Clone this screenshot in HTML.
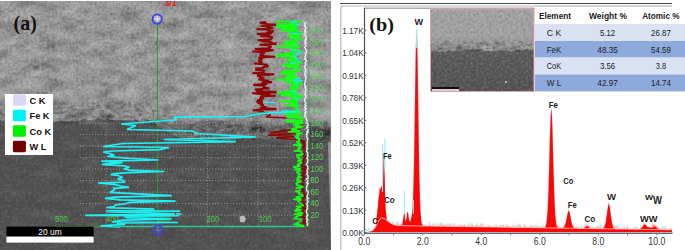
<!DOCTYPE html>
<html><head><meta charset="utf-8"><style>
html,body{margin:0;padding:0;background:#fff;}
body{width:685px;height:250px;overflow:hidden;position:relative;}
svg{position:absolute;left:0;top:0;font-family:"Liberation Sans",sans-serif;}
</style></head><body>
<svg width="685" height="250" viewBox="0 0 685 250">
<defs><filter id="nz" x="0" y="0" width="100%" height="100%" color-interpolation-filters="sRGB"><feTurbulence type="fractalNoise" baseFrequency="0.38" numOctaves="2" seed="4" result="t"/><feColorMatrix in="t" type="matrix" values="0 0 0 0 1  0 0 0 0 1  0 0 0 0 1  2.6 0 0 0 -1.3" result="w"/><feColorMatrix in="t" type="matrix" values="0 0 0 0 0  0 0 0 0 0  0 0 0 0 0  -2.6 0 0 0 1.3" result="b"/><feMerge><feMergeNode in="w"/><feMergeNode in="b"/></feMerge></filter><filter id="blot" x="0" y="0" width="100%" height="100%" color-interpolation-filters="sRGB"><feTurbulence type="fractalNoise" baseFrequency="0.05 0.1" numOctaves="3" seed="11" result="t"/><feColorMatrix in="t" type="matrix" values="0 0 0 0 1  0 0 0 0 1  0 0 0 0 1  2 0 0 0 -1" result="w"/><feColorMatrix in="t" type="matrix" values="0 0 0 0 0  0 0 0 0 0  0 0 0 0 0  -2 0 0 0 1" result="b"/><feMerge><feMergeNode in="w"/><feMergeNode in="b"/></feMerge></filter><filter id="blot2" x="0" y="0" width="100%" height="100%" color-interpolation-filters="sRGB"><feTurbulence type="fractalNoise" baseFrequency="0.16 0.26" numOctaves="3" seed="21" result="t"/><feColorMatrix in="t" type="matrix" values="0 0 0 0 1  0 0 0 0 1  0 0 0 0 1  2.5 0 0 0 -1.3" result="w"/><feColorMatrix in="t" type="matrix" values="0 0 0 0 0  0 0 0 0 0  0 0 0 0 0  -3 0 0 0 1.5" result="b"/><feMerge><feMergeNode in="w"/><feMergeNode in="b"/></feMerge></filter><linearGradient id="bandm" x1="0" y1="0" x2="0" y2="1"><stop offset="0" stop-color="#fff" stop-opacity="0"/><stop offset="0.35" stop-color="#fff" stop-opacity="1"/><stop offset="1" stop-color="#fff" stop-opacity="1"/></linearGradient><filter id="mb" x="-5%" y="-30%" width="110%" height="160%"><feGaussianBlur stdDeviation="3"/></filter><mask id="bm"><polygon points="0,120.9 4,121.8 8,121.6 12,122.4 16,122.6 20,121.5 24,121.5 28,123.5 32,122.2 36,122.2 40,124 44,122.7 48,123.4 52,122.4 56,122.7 60,121.3 64,122.3 68,122.6 72,121.6 76,121.9 80,121.5 84,119.8 88,121.3 92,120.7 96,119.9 100,119.2 104,121.1 108,120.1 112,120.7 116,121.2 120,120.9 124,121.5 128,120.4 132,121.5 136,120.9 140,122.3 144,122.4 148,120.7 152,122.1 156,124.7 160,128.9 164,129.9 168,132.7 172,134.2 176,136.9 180,138.8 184,140.9 188,141.9 192,141.8 196,142.5 200,141.8 204,142.2 208,141.8 212,141.9 216,141 220,139.5 224,141 228,141 232,140.7 236,139.7 240,139.9 244,138.6 248,140 252,139.4 256,138.7 260,138.2 264,140.2 268,140.6 272,138.6 276,140.5 280,139.8 284,139.4 288,139.9 292,141.3 296,141.8 300,140 304,141.6 308,140.4 312,142.1 316,141.3 320,142.7 324,143 328,141.8 328,123.8 324,125 320,124.7 316,123.3 312,124.1 308,122.4 304,123.6 300,122 296,123.8 292,123.3 288,121.9 284,121.4 280,121.8 276,122.5 272,120.6 268,122.6 264,122.2 260,120.2 256,120.7 252,121.4 248,122 244,120.6 240,121.9 236,121.7 232,122.7 228,123 224,123 220,121.5 216,123 212,123.9 208,123.8 204,124.2 200,123.8 196,124.5 192,123.8 188,123.9 184,122.9 180,120.8 176,118.9 172,116.2 168,114.7 164,111.9 160,110.9 156,106.7 152,104.1 148,102.7 144,104.4 140,104.3 136,102.9 132,103.5 128,102.4 124,103.5 120,102.9 116,103.2 112,102.7 108,102.1 104,103.1 100,101.2 96,101.9 92,102.7 88,103.3 84,101.8 80,103.5 76,103.9 72,103.6 68,104.6 64,104.3 60,103.3 56,104.7 52,104.4 48,105.4 44,104.7 40,106 36,104.2 32,104.2 28,105.5 24,103.5 20,103.5 16,104.6 12,104.4 8,103.6 4,103.8 0,102.9" fill="#fff" filter="url(#mb)"/></mask><clipPath id="ca"><rect x="0" y="1" width="331" height="249"/></clipPath></defs><g clip-path="url(#ca)"><rect x="0" y="1" width="331" height="249" fill="#989898"/><defs><linearGradient id="tg" x1="0" y1="0" x2="0" y2="1"><stop offset="0" stop-color="#000" stop-opacity="0"/><stop offset="1" stop-color="#000" stop-opacity="0.12"/></linearGradient><linearGradient id="tg2" x1="0" y1="0" x2="0" y2="1"><stop offset="0" stop-color="#7c7c7c" stop-opacity="1"/><stop offset="0.6" stop-color="#6a6a6a" stop-opacity="0.8"/><stop offset="1" stop-color="#5a5a5a" stop-opacity="0"/></linearGradient><filter id="bl1"><feGaussianBlur stdDeviation="1.2"/></filter></defs><polygon points="0,120.9 4,121.8 8,121.6 12,122.4 16,122.6 20,121.5 24,121.5 28,123.5 32,122.2 36,122.2 40,124 44,122.7 48,123.4 52,122.4 56,122.7 60,121.3 64,122.3 68,122.6 72,121.6 76,121.9 80,121.5 84,119.8 88,121.3 92,120.7 96,119.9 100,119.2 104,121.1 108,120.1 112,120.7 116,121.2 120,120.9 124,121.5 128,120.4 132,121.5 136,120.9 140,122.3 144,122.4 148,120.7 152,122.1 156,124.7 160,128.9 164,129.9 168,132.7 172,134.2 176,136.9 180,138.8 184,140.9 188,141.9 192,141.8 196,142.5 200,141.8 204,142.2 208,141.8 212,141.9 216,141 220,139.5 224,141 228,141 232,140.7 236,139.7 240,139.9 244,138.6 248,140 252,139.4 256,138.7 260,138.2 264,140.2 268,140.6 272,138.6 276,140.5 280,139.8 284,139.4 288,139.9 292,141.3 296,141.8 300,140 304,141.6 308,140.4 312,142.1 316,141.3 320,142.7 324,143 328,141.8 328,123.8 324,125 320,124.7 316,123.3 312,124.1 308,122.4 304,123.6 300,122 296,123.8 292,123.3 288,121.9 284,121.4 280,121.8 276,122.5 272,120.6 268,122.6 264,122.2 260,120.2 256,120.7 252,121.4 248,122 244,120.6 240,121.9 236,121.7 232,122.7 228,123 224,123 220,121.5 216,123 212,123.9 208,123.8 204,124.2 200,123.8 196,124.5 192,123.8 188,123.9 184,122.9 180,120.8 176,118.9 172,116.2 168,114.7 164,111.9 160,110.9 156,106.7 152,104.1 148,102.7 144,104.4 140,104.3 136,102.9 132,103.5 128,102.4 124,103.5 120,102.9 116,103.2 112,102.7 108,102.1 104,103.1 100,101.2 96,101.9 92,102.7 88,103.3 84,101.8 80,103.5 76,103.9 72,103.6 68,104.6 64,104.3 60,103.3 56,104.7 52,104.4 48,105.4 44,104.7 40,106 36,104.2 32,104.2 28,105.5 24,103.5 20,103.5 16,104.6 12,104.4 8,103.6 4,103.8 0,102.9" fill="#000" opacity="0.1" filter="url(#mb)"/><polygon points="0,119.9 4,120.8 8,120.6 12,121.4 16,121.6 20,120.5 24,120.5 28,122.5 32,121.2 36,121.2 40,123 44,121.7 48,122.4 52,121.4 56,121.7 60,120.3 64,121.3 68,121.6 72,120.6 76,120.9 80,120.5 84,118.8 88,120.3 92,119.7 96,118.9 100,118.2 104,120.1 108,119.1 112,119.7 116,120.2 120,119.9 124,120.5 128,119.4 132,120.5 136,119.9 140,121.3 144,121.4 148,119.7 152,121.1 156,123.7 160,127.9 164,128.9 168,131.7 172,133.2 176,135.9 180,137.8 184,139.9 188,140.9 192,140.8 196,141.5 200,140.8 204,141.2 208,140.8 212,140.9 216,140 220,138.5 224,140 228,140 232,139.7 236,138.7 240,138.9 244,137.6 248,139 252,138.4 256,137.7 260,137.2 264,139.2 268,139.6 272,137.6 276,139.5 280,138.8 284,138.4 288,138.9 292,140.3 296,140.8 300,139 304,140.6 308,139.4 312,141.1 316,140.3 320,141.7 324,142 328,140.8 331,250 0,250" fill="#515151"/><polygon points="150,121 152,121.1 156,121.5 160,121.5 164,121.5 168,121.5 172,121.5 176,121.5 180,121.5 184,121.5 188,121.5 192,121.5 196,121.5 200,121.5 204,121.5 208,121.5 212,121.5 216,121.5 220,121.5 224,121.5 228,121.5 232,121.5 236,121.5 240,121.5 244,121.5 248,121.5 252,121.5 256,121.5 260,121.5 264,121.5 268,121.5 272,121.5 276,121.5 280,121.5 284,121.5 288,121.5 292,121.5 296,121.5 300,121.5 304,121.5 308,121.5 312,121.5 316,121.5 320,121.5 324,121.5 328,121.5 328,140.8 324,142 320,141.7 316,140.3 312,141.1 308,139.4 304,140.6 300,139 296,140.8 292,140.3 288,138.9 284,138.4 280,138.8 276,139.5 272,137.6 268,139.6 264,139.2 260,137.2 256,137.7 252,138.4 248,139 244,137.6 240,138.9 236,138.7 232,139.7 228,140 224,140 220,138.5 216,140 212,140.9 208,140.8 204,141.2 200,140.8 196,141.5 192,140.8 188,140.9 184,139.9 180,137.8 176,135.9 172,133.2 168,131.7 164,128.9 160,127.9 156,123.7 152,121.1" fill="#3a3a3a" opacity="0.42" filter="url(#bl1)"/><rect x="309" y="127" width="22" height="15" fill="#474747" filter="url(#bl1)"/><ellipse cx="258" cy="129" rx="7" ry="2.6" fill="#1c1c1c" opacity="0.8" filter="url(#bl1)"/><ellipse cx="232" cy="126" rx="5" ry="1.6" fill="#1c1c1c" opacity="0.5" filter="url(#bl1)"/><ellipse cx="108" cy="116.5" rx="8" ry="1.6" fill="#1c1c1c" opacity="0.6" filter="url(#bl1)"/><ellipse cx="80" cy="114" rx="5" ry="1.3" fill="#1c1c1c" opacity="0.4" filter="url(#bl1)"/><ellipse cx="327" cy="133" rx="3" ry="3" fill="#1c1c1c" opacity="0.8" filter="url(#bl1)"/><ellipse cx="284" cy="130" rx="4" ry="2" fill="#1c1c1c" opacity="0.5" filter="url(#bl1)"/><ellipse cx="36" cy="68" rx="3" ry="2" fill="#1c1c1c" opacity="0.35" filter="url(#bl1)"/><ellipse cx="190" cy="92" rx="3" ry="2" fill="#1c1c1c" opacity="0.25" filter="url(#bl1)"/><ellipse cx="140" cy="110" rx="6" ry="1.5" fill="#1c1c1c" opacity="0.35" filter="url(#bl1)"/><ellipse cx="300" cy="140" rx="5" ry="2" fill="#1c1c1c" opacity="0.5" filter="url(#bl1)"/><rect x="0" y="1" width="331" height="124" filter="url(#blot)" opacity="0.3"/><rect x="0" y="125" width="331" height="125" filter="url(#blot)" opacity="0.09"/><g mask="url(#bm)"><rect x="0" y="90" width="331" height="56" filter="url(#blot2)" opacity="0.28"/></g><defs><clipPath id="upc"><polygon points="0,1 331,1 328,140.8 324,142 320,141.7 316,140.3 312,141.1 308,139.4 304,140.6 300,139 296,140.8 292,140.3 288,138.9 284,138.4 280,138.8 276,139.5 272,137.6 268,139.6 264,139.2 260,137.2 256,137.7 252,138.4 248,139 244,137.6 240,138.9 236,138.7 232,139.7 228,140 224,140 220,138.5 216,140 212,140.9 208,140.8 204,141.2 200,140.8 196,141.5 192,140.8 188,140.9 184,139.9 180,137.8 176,135.9 172,133.2 168,131.7 164,128.9 160,127.9 156,123.7 152,121.1 148,119.7 144,121.4 140,121.3 136,119.9 132,120.5 128,119.4 124,120.5 120,119.9 116,120.2 112,119.7 108,119.1 104,120.1 100,118.2 96,118.9 92,119.7 88,120.3 84,118.8 80,120.5 76,120.9 72,120.6 68,121.6 64,121.3 60,120.3 56,121.7 52,121.4 48,122.4 44,121.7 40,123 36,121.2 32,121.2 28,122.5 24,120.5 20,120.5 16,121.6 12,121.4 8,120.6 4,120.8 0,119.9"/></clipPath><clipPath id="loc"><polygon points="0,119.9 4,120.8 8,120.6 12,121.4 16,121.6 20,120.5 24,120.5 28,122.5 32,121.2 36,121.2 40,123 44,121.7 48,122.4 52,121.4 56,121.7 60,120.3 64,121.3 68,121.6 72,120.6 76,120.9 80,120.5 84,118.8 88,120.3 92,119.7 96,118.9 100,118.2 104,120.1 108,119.1 112,119.7 116,120.2 120,119.9 124,120.5 128,119.4 132,120.5 136,119.9 140,121.3 144,121.4 148,119.7 152,121.1 156,123.7 160,127.9 164,128.9 168,131.7 172,133.2 176,135.9 180,137.8 184,139.9 188,140.9 192,140.8 196,141.5 200,140.8 204,141.2 208,140.8 212,140.9 216,140 220,138.5 224,140 228,140 232,139.7 236,138.7 240,138.9 244,137.6 248,139 252,138.4 256,137.7 260,137.2 264,139.2 268,139.6 272,137.6 276,139.5 280,138.8 284,138.4 288,138.9 292,140.3 296,140.8 300,139 304,140.6 308,139.4 312,141.1 316,140.3 320,141.7 324,142 328,140.8 331,250 0,250"/></clipPath></defs><g clip-path="url(#upc)"><rect x="0" y="1" width="331" height="249" filter="url(#nz)" opacity="0.19"/></g><g clip-path="url(#loc)"><rect x="0" y="1" width="331" height="249" filter="url(#nz)" opacity="0.1"/></g></g><line x1="80" y1="215.1" x2="308" y2="215.1" stroke="#c8c8c8" stroke-width="0.9" stroke-dasharray="1.2 1.8" opacity="0.55"/><line x1="80" y1="203.6" x2="308" y2="203.6" stroke="#c8c8c8" stroke-width="0.9" stroke-dasharray="1.2 1.8" opacity="0.55"/><line x1="80" y1="192.1" x2="308" y2="192.1" stroke="#c8c8c8" stroke-width="0.9" stroke-dasharray="1.2 1.8" opacity="0.55"/><line x1="80" y1="180.6" x2="308" y2="180.6" stroke="#c8c8c8" stroke-width="0.9" stroke-dasharray="1.2 1.8" opacity="0.55"/><line x1="80" y1="169.1" x2="308" y2="169.1" stroke="#c8c8c8" stroke-width="0.9" stroke-dasharray="1.2 1.8" opacity="0.55"/><line x1="80" y1="157.6" x2="308" y2="157.6" stroke="#c8c8c8" stroke-width="0.9" stroke-dasharray="1.2 1.8" opacity="0.55"/><line x1="80" y1="146.1" x2="308" y2="146.1" stroke="#c8c8c8" stroke-width="0.9" stroke-dasharray="1.2 1.8" opacity="0.55"/><line x1="80" y1="134.6" x2="308" y2="134.6" stroke="#c8c8c8" stroke-width="0.9" stroke-dasharray="1.2 1.8" opacity="0.55"/><line x1="80" y1="123.1" x2="308" y2="123.1" stroke="#c8c8c8" stroke-width="0.9" stroke-dasharray="1.2 1.8" opacity="0.55"/><line x1="106.2" y1="120" x2="106.2" y2="226" stroke="#c8c8c8" stroke-width="0.9" stroke-dasharray="1.2 1.8" opacity="0.45"/><line x1="207.6" y1="120" x2="207.6" y2="226" stroke="#c8c8c8" stroke-width="0.9" stroke-dasharray="1.2 1.8" opacity="0.45"/><line x1="258.3" y1="120" x2="258.3" y2="226" stroke="#c8c8c8" stroke-width="0.9" stroke-dasharray="1.2 1.8" opacity="0.45"/><line x1="55" y1="226.6" x2="309" y2="226.6" stroke="#2fa52f" stroke-width="1"/><line x1="55.5" y1="225.1" x2="55.5" y2="227.6" stroke="#2fa52f" stroke-width="0.8"/><line x1="80.8" y1="225.1" x2="80.8" y2="227.6" stroke="#2fa52f" stroke-width="0.8"/><line x1="106.2" y1="225.1" x2="106.2" y2="227.6" stroke="#2fa52f" stroke-width="0.8"/><line x1="131.5" y1="225.1" x2="131.5" y2="227.6" stroke="#2fa52f" stroke-width="0.8"/><line x1="156.9" y1="225.1" x2="156.9" y2="227.6" stroke="#2fa52f" stroke-width="0.8"/><line x1="182.2" y1="225.1" x2="182.2" y2="227.6" stroke="#2fa52f" stroke-width="0.8"/><line x1="207.6" y1="225.1" x2="207.6" y2="227.6" stroke="#2fa52f" stroke-width="0.8"/><line x1="232.9" y1="225.1" x2="232.9" y2="227.6" stroke="#2fa52f" stroke-width="0.8"/><line x1="258.3" y1="225.1" x2="258.3" y2="227.6" stroke="#2fa52f" stroke-width="0.8"/><line x1="283.6" y1="225.1" x2="283.6" y2="227.6" stroke="#2fa52f" stroke-width="0.8"/><line x1="157.4" y1="24" x2="157.4" y2="226" stroke="#2e9a2e" stroke-width="1"/><line x1="308.8" y1="20" x2="308.8" y2="227" stroke="#2fa52f" stroke-width="0.7" opacity="0.7"/><text x="55" y="221.6" font-size="9" fill="#48c848" textLength="12.8" lengthAdjust="spacingAndGlyphs">500</text><text x="106" y="221.6" font-size="9" fill="#48c848" textLength="12.8" lengthAdjust="spacingAndGlyphs">400</text><text x="157.3" y="221.6" font-size="9" fill="#48c848" textLength="12.8" lengthAdjust="spacingAndGlyphs">300</text><text x="206.6" y="221.6" font-size="9" fill="#48c848" textLength="12.8" lengthAdjust="spacingAndGlyphs">200</text><text x="258.7" y="221.6" font-size="9" fill="#48c848" textLength="12.8" lengthAdjust="spacingAndGlyphs">100</text><text x="310.6" y="217.9" font-size="8.2" fill="#5ed05e" textLength="8.5" lengthAdjust="spacingAndGlyphs">20</text><text x="310.6" y="206.4" font-size="8.2" fill="#5ed05e" textLength="8.5" lengthAdjust="spacingAndGlyphs">40</text><text x="310.6" y="194.8" font-size="8.2" fill="#5ed05e" textLength="8.5" lengthAdjust="spacingAndGlyphs">60</text><text x="310.6" y="183.3" font-size="8.2" fill="#5ed05e" textLength="8.5" lengthAdjust="spacingAndGlyphs">80</text><text x="310.6" y="171.8" font-size="8.2" fill="#5ed05e" textLength="12.5" lengthAdjust="spacingAndGlyphs">100</text><text x="310.6" y="160.2" font-size="8.2" fill="#5ed05e" textLength="12.5" lengthAdjust="spacingAndGlyphs">120</text><text x="310.6" y="148.7" font-size="8.2" fill="#5ed05e" textLength="12.5" lengthAdjust="spacingAndGlyphs">140</text><text x="310.6" y="137.1" font-size="8.2" fill="#5ed05e" textLength="12.5" lengthAdjust="spacingAndGlyphs">160</text><text x="310.6" y="125.5" font-size="8.2" fill="#5ed05e" textLength="12.5" lengthAdjust="spacingAndGlyphs">180</text><text x="310.6" y="114" font-size="8.2" fill="#5ed05e" textLength="12.5" lengthAdjust="spacingAndGlyphs">200</text><text x="310.6" y="102.4" font-size="8.2" fill="#5ed05e" textLength="12.5" lengthAdjust="spacingAndGlyphs">220</text><text x="310.6" y="90.9" font-size="8.2" fill="#5ed05e" textLength="12.5" lengthAdjust="spacingAndGlyphs">240</text><text x="310.6" y="79.3" font-size="8.2" fill="#5ed05e" textLength="12.5" lengthAdjust="spacingAndGlyphs">260</text><text x="310.6" y="67.8" font-size="8.2" fill="#5ed05e" textLength="12.5" lengthAdjust="spacingAndGlyphs">280</text><text x="310.6" y="56.2" font-size="8.2" fill="#5ed05e" textLength="12.5" lengthAdjust="spacingAndGlyphs">300</text><text x="310.6" y="44.7" font-size="8.2" fill="#5ed05e" textLength="12.5" lengthAdjust="spacingAndGlyphs">320</text><text x="310.6" y="33.1" font-size="8.2" fill="#5ed05e" textLength="12.5" lengthAdjust="spacingAndGlyphs">340</text><polyline points="265.9,22 259.7,22.6 265.5,23.1 266.6,23.7 267.7,24.2 276.7,24.7 268.7,25.3 260.7,25.8 267.9,26.2 266.2,26.8 269.9,27.4 273,28 271.7,28.5 256.4,29.2 270.1,29.7 268,30.4 270,31 273.8,31.4 270.2,32.2 266.3,32.7 271.9,33.2 256.7,33.9 270.1,34.3 262.6,35 270.3,35.6 260,36.3 270.5,36.8 272.8,37.5 271.7,38.3 270.8,39 270.5,39.4 257.6,40.2 270.5,40.6 260.6,41.2 271,42 272.1,42.6 270.5,43.1 276.6,43.6 270.7,44.1 259.5,44.8 270.5,45.2 267.7,45.9 270.6,46.6 271.4,47 269,47.5 270.5,48 267.5,48.4 254.8,49 267.1,49.6 273.7,50.3 267.3,51 252.3,51.5 265.2,52.2 262.4,52.9 264.2,53.4 260.3,53.8 263.7,54.6 259.6,55.4 262.7,56.1 275,56.7 262.2,57.3 258.4,58 262.8,58.8 259.4,59.5 261.2,60.1 258,60.8 262.3,61.4 258.7,62.1 262.4,62.8 253.8,63.5 263.3,64.3 267.6,64.8 264,65.5 268.6,66.3 264.3,66.9 262.6,67.4 263.5,68.1 255.3,68.6 261.8,69 255.2,69.7 262.5,70.4 263.9,70.8 263.3,71.5 263.4,72.1 263.6,72.5 252.5,73 262.9,73.7 274.3,74.3 262.6,75.1 257,75.6 261.4,76.2 259,76.8 261.8,77.4 263.3,78.1 262.4,78.9 258.3,79.3 262.8,80.1 269,80.8 262.5,81.5 272,82.1 264.6,82.8 261.2,83.6 267,84.1 253.2,84.9 264.2,85.5 265.1,85.9 262.9,86.6 265.5,87.1 262.7,87.6 269.4,88.3 261.2,89 254.9,89.5 262.7,90.2 255.8,90.8 262.8,91.6 276.5,92.1 262.1,92.7 252.3,93.3 262,94.1 270.4,94.6 262.1,95.2 275.9,95.8 261.9,96.3 260.2,96.7 261.4,97.5 263.9,98.2 261.2,98.9 259,99.3 261.2,99.9 257.1,100.6 262.7,101.1 256.3,101.7 262,102.2 257.6,102.9 262.7,103.6 259.8,104.4 263,105.1 263.3,105.9 262,106.6 266.4,107.1 263.9,107.6 259.8,108 261.7,108.4 276.5,109.1 262,109.5 252.7,110.2 261.1,110.7 257.7,111.3 263,111.7 263.7,112.5 264,113 267.6,113.5" fill="none" stroke="#8e0606" stroke-width="2.1" stroke-linejoin="miter" stroke-miterlimit="2" opacity="1"/><polyline points="270,113 270,115 266,117 298,118.5 300,120 301.8,121 303,122.1 299.1,122.8 300.6,123.6 303.1,124.8 302.3,125.8 299.9,126.9 300,127.8 299.4,129 270,132.5 299,133.5 268,135 296,136.5 276,138 300,140 302.8,141 304.9,142 302.4,143 302.2,143.7 305.2,144.4 304.2,145 303,145.7 305.7,146.5 301.6,147.4 302.2,148.2 305.5,149.2 305.6,150.3 306.2,151.3 302.8,152.3 303.9,153.4 304.3,154.4 303.3,155.2 303.1,156.1 305.6,156.7 306.4,157.7 304.3,158.7 302.2,159.7 303.7,160.7 302.5,161.3 302.8,162.2 304.5,163 302.2,163.8 302.7,164.7 302.5,165.3 301.9,166.1 306.3,167.1 305.1,167.9 301.7,169 305.5,169.6 304.7,170.7 303.6,171.3 305.9,172.4 302.5,173.5 303.4,174.5 302.2,175.5 304.5,176.7 302.6,177.7 304.4,178.6 303.3,179.5 303.2,180.5 302.3,181.2 302.1,182.2 301.8,182.9 304.3,183.8 301.7,184.7 303.2,185.5 301.5,186.1 302.1,187.3 302.8,188 301.9,188.9 303.3,189.8 301.5,190.8 304,191.6 304.1,192.7 304.8,193.6 301.7,194.3 306.1,195.2 302.8,196.2 305.7,197.1 304.4,197.8 302.7,198.6 302.5,199.3 301.7,200.1 301.9,200.9 304.5,201.9 305.4,202.4 303.9,203.1 303.2,204 303.7,204.7 305.8,205.3 305.6,206 303,206.6 301.7,207.4 303.3,208 305.9,208.9 301.7,210 302.1,210.9 303.1,211.9 304.2,213 301.5,213.7 305.8,214.4 303.9,215 303.2,215.8 302.6,216.8 304.8,217.8 304.1,218.9 303.7,220.1 304.6,221 306,222 302.2,222.6 305.6,223.5 303,224.4 303,225.5" fill="none" stroke="#8e0606" stroke-width="1.6" stroke-linejoin="miter" stroke-miterlimit="2" opacity="1"/><path d="M276 21.5H302" stroke="#14ff14" stroke-width="1.6" opacity="1" fill="none"/><polyline points="296.7,22.5 292.2,23.1 298,23.8 276.1,24.4 298.2,25 276.9,25.5 297.9,26.3 276.7,27 297.7,27.5 293,28.1 297.7,28.5 283.1,29.1 297.7,29.7 280.4,30.2 298,31 288.3,31.7 298.9,32.4 302.5,32.9 298.7,33.4 298.9,34 299.4,34.6 287.3,35.4 299.5,36 288.8,36.5 298.7,37.1 289.7,37.9 298.2,38.4 302.1,38.8 299.1,39.4 298,40.2 296.8,41 283.7,41.7 296.3,42.2 286.2,42.9 295.7,43.7 284.7,44.2 298.4,44.6 286.4,45.4 299,45.9 276.6,46.5 299.8,47 289.4,47.7 296.8,48.4 292.3,49 295.1,49.4 293,50.1 292.8,50.7 302.1,51.3 292.8,51.7 291.4,52.3 293.3,53 284.9,53.6 294.2,54.1 276.8,54.7 295.8,55.4 276.1,56.1 296.3,56.7 290.6,57.4 296.8,57.9 295.6,58.5 297.1,59 286.3,59.4 297.1,60.1 286.6,60.7 299.2,61.3 298.1,61.8 298.2,62.3 302,62.7 299.1,63.3 284.9,63.9 298.1,64.4 281.6,64.8 298.9,65.5 287.2,66 298.2,66.7 286.4,67.1 299.1,67.8 295.6,68.5 297.9,69.2 299.6,69.7 299.9,70.3 283.1,70.7 295.5,71.3 282.1,71.9 295.3,72.7 280.1,73.5 295.1,74 293.9,74.7 294,75.2 287.2,75.9 296.8,76.4 285.2,77.1 296.7,77.8 296.1,78.3 298.2,78.7 276.4,79.5 299.4,80.1 288.5,80.6 298.6,81 300.5,81.6 299.1,82.1 285.3,82.5 296.3,83.1 302.5,83.8 297.6,84.6 293,85.3 297.7,85.8 290,86.5 298.5,87.1 290.4,87.7 297,88.4 290.8,88.9 296.9,89.3 290.3,89.9 297.5,90.4 285.1,91.2 297.2,91.8 276.9,92.6 296.7,93.1 290.6,93.8 298.4,94.4 280.7,95.1 299.8,95.8 302.9,96.4 299.6,97 290.1,97.4 298.5,98 296.5,98.7 299.6,99.3 292.7,99.9 297.8,100.7 279.9,101.1 297.8,101.7 289.1,102.2 297.8,102.6 295.9,103.1 297.8,103.7 290.5,104.2 298.2,104.9 285.3,105.5 296.8,106.1 293.1,106.7 297.4,107.3 296.7,108 297.1,108.5 296.7,109.2 296.3,109.7 299.8,110.3 295.3,110.8 288.1,111.4 297.3,112 283.8,112.7 298.2,113.2 302.4,113.7" fill="none" stroke="#14ff14" stroke-width="2.0" stroke-linejoin="miter" stroke-miterlimit="2" opacity="1"/><path d="M286.0 115.0H297.2M285.7 116.7H301.6M287.2 117.9H303.7M297.0 119.0H301.8M284.7 120.7H303.2M286.7 122.0H302.9M294.8 123.4H303.7M292.6 124.7H298.8M294.9 126.4H303.7M295.6 127.8H301.7M291.4 128.9H297.2M291.2 130.5H299.9M288.3 131.9H299.6" stroke="#14ff14" stroke-width="1.6" opacity="1" fill="none"/><polyline points="302.4,133 296.1,134.1 299.5,134.9 298.8,135.6 294.5,136.4 299.3,137.2 295.9,138 300.4,138.9 298.2,140 299.8,140.8 296.1,141.5 299.9,142.5 296.9,143.5 301.6,144.2 293,144.8 301.7,145.7 297.7,146.5 299.6,147.5 301.4,148.1 297.3,149.2 299.9,150.3 293.5,151 301.6,151.5 301.5,152.7 302.9,153.6 302.8,154.3 296.1,155 302.5,155.6 296.3,156.3 299.6,157 298.7,157.7 298.1,158.5 302.2,159.5 300.7,160.3 297.3,161.3 301.3,162.1 301.7,163 298,163.9 297.4,165 299.7,165.6 299.7,166.2 293.3,167.1 296.6,168.1 300.6,168.8 294.4,169.6 300.7,170.4 299.4,171.3 296.1,172.4 299.2,173.5 300,174.5 298.1,175.2 298.1,176.4 301.6,177.2 297.4,178.1 297.1,178.7 299.3,179.7 296.4,180.6 301.9,181.4 297.4,182.5 295.8,183.4 298.2,184.1 296.2,185.2 300.6,186 302.4,186.6 302.8,187.2 295.6,187.9 301,188.5 299.8,189.5 300,190.5 295,191.3 298.7,192 299.5,192.9 298.2,193.7 302.4,194.7 302.9,195.8 298.4,196.4 295.8,197.5 301.2,198.5 293.1,199.2 301.7,200 297.3,200.8 298.8,201.7 299.8,202.8 300.2,203.7 302.4,204.6 301.4,205 304,205.6 295.8,206.4 301.4,207 299,207.9 296,208.9 301.7,210 294.3,210.6 296.4,211.6 299.9,212.2 303.3,213.2 294,214.2 302.4,215.1 297.4,216.1 295.8,217.1 296.3,217.6 293.5,218.5 301.9,219.5 300.7,220.1 300.8,221 298.6,221.9 297.3,222.9 298.9,223.7 293.4,224.3 299,224.9 303.9,225.4 296,226.4 304,226.4" fill="none" stroke="#14ff14" stroke-width="1.5" stroke-linejoin="miter" stroke-miterlimit="2" opacity="1"/><path d="M291.1 22.0H297.2M295.2 24.7H299.9M290.3 33.6H301.1M296.1 37.7H296.2M295.0 44.8H296.9M291.9 50.3H300.3M297.0 52.7H301.9M295.0 54.6H298.9M292.6 57.0H296.2M295.6 58.8H299.0M296.9 61.3H300.6M289.6 63.2H296.3M294.9 68.5H296.9M292.9 78.6H301.1M293.1 81.0H302.8M295.2 82.9H297.9M297.3 85.7H298.7M290.5 90.9H296.2M294.1 94.3H297.1M295.1 96.3H296.8M295.4 99.1H299.9M297.5 105.6H300.5" stroke="#22e4f0" stroke-width="1.3" opacity="1" fill="none"/><polyline points="304.5,22 305.3,22.8 304.8,24.1 305,24.9 304.8,26.3 305.8,27.6 305.6,28.5 305.3,29.6 304.7,31.1 306.4,31.8 304.9,32.9 305.2,33.9 304.9,35.4 305.7,36.3 306.4,37.5 305.2,38.9 306.2,39.8 304.6,41.4 306.2,42.7 304.9,44 306,45.4 305.8,46.2 304.6,47.2 305.2,48.2 305.8,49.2 306.4,50.6 306.5,52.2 305.1,53.6 305.7,54.4 305.8,55.6 304.9,56.4 305.7,57.9 304.7,59.2 306.3,60.3 306.5,61.5 305.4,62.4 305.4,63.8 305.6,65.2 304.7,66 304.7,67.5 305.2,68.4 306.2,69.7 305.5,70.9 305.1,72.2 305.7,73.3 304.6,74.5 304.8,75.3 305.9,76.7 306,78.2 306,79.2 305.2,80.7 305.3,81.4 304.9,82.4 304.7,83.1 304.6,84.6 304.9,85.8 306.1,86.7 304.9,87.7 305.9,88.8 306.2,89.9 305.5,91 305.4,92.3 305.4,93.6 304.7,94.5 306,95.9 305.9,97.4 304.8,98.6 304.7,100 304.8,101.1 305.1,102.1 305.9,103.2 305,104.4 306,105.8 304.6,107.2 306.3,108.4 304.9,109.3 305.2,110.7 306.1,111.8 304.9,112.8 305.2,113.7 305.2,115 304.6,116.4 305.7,117.3 306.5,119 306.9,119.9 307.3,121.4 306.5,122.7 308,123.8 308.2,125 307,126.5 307.8,127.2 306.3,128 308,129.3 308.2,130.8 306.5,131.7 308.3,132.5 306.6,133.3 306.4,134 307,134.8 306.9,135.6 306.6,137.1 307.8,138.5 307.5,139.7 307.5,141.1 307,142 307.1,142.9 307.2,144.5 307.3,145.3 307.2,146.7 306.5,148 307.6,148.8 306.9,149.5 306.7,150.6 306.3,151.3 307.7,152.8 307.3,154.4 308,155.9 307.4,157.1 306.8,158.3 307.7,159.3 308,160.2 307.5,161.3 307.6,162.7 306.8,163.6 306.4,164.3 307.5,165.8 307.9,167.4 308.2,168.3 307.2,169.8 306.9,170.6 307,171.5 307.7,172.3 306.7,173.8 307.5,175.2 308.1,176.3 307.9,177.4 308.2,178.1 306.3,179 307.7,180.4 307.8,181.7 306.5,182.8 308.2,183.7 306.8,185.3 307.2,186.4 306.3,187.9 306.8,189.3 306.6,190.5 308.1,191.2 308.2,192.4 307.8,193.8 307.5,194.6 307.3,196.2 306.7,196.9 308.3,198.5 306.9,199.4 307.3,200.7 308.3,201.6 307,202.9 307.3,203.6 306.7,205 307.7,205.7 307.1,207.2 307.6,208.4 306.6,209.5 306.7,210.5 306.5,211.4 306.7,212.4 306.9,213.8 307.9,215.4 306.6,216.3 307.2,217.5 306.5,218.7 307.8,219.8 306.8,220.9 306.9,222.4 307.7,224 307.2,224.7 307.9,225.6" fill="none" stroke="#ece8ff" stroke-width="1.4" stroke-linejoin="miter" stroke-miterlimit="2" opacity="1"/><path d="M264 102.4H275M282 111H290M230 137H255" stroke="#1ef0f5" stroke-width="1.4" opacity="1" fill="none"/><polyline points="300,111.5 262,113.3 245,116.5 174,117.2 176.5,120 147,122 121,124 136,125.5 127,129.5 192.6,131 196.6,133.5 255.8,137 163.7,139.5 236,141.7 122.9,143.5 103,146.5 169,147.5 159.7,149.6 112.6,151 103.1,152 108.9,153.3 114.2,155.1 107.6,156.5 129.4,158.3 158.5,160 101.2,161.2 122.5,162.7 101.8,164.4 124.3,165.9 129.5,167.2 123.7,168.8 129.5,170.2 164.3,171.5 128.6,172.7 114.2,173.6 110.8,174.6 117.8,175.5 122.5,177.3 117.5,179.1 123.5,180.4 124.4,182.2 98.1,183 114.6,184.4 120.5,186 129.2,187.4 113.7,188.3 114.3,189.7 111.8,191.4 109.8,192.3 138.2,193.9 171.8,195.6 114.5,197.1 104.9,198.4 120.5,199.9 175.6,201.2 129.5,202.3 125,203.9 115,205 114.3,206.5 106.4,207.7 154.3,209.1 109.4,210.8 106,211 180,211.2 106.5,211.6 127.6,212.5 181.5,214 113.7,214.9 85,215.4 179,215.6 123.9,216.5 127.4,217.6 172,219 122.5,220.2 117.5,221.1 112,222 178,222.5 116.5,222.8 125.1,224.4 100.4,225.8 120,227" fill="none" stroke="#1ef0f5" stroke-width="1.7" stroke-linejoin="miter" stroke-miterlimit="2" opacity="1"/><line x1="112" y1="226.5" x2="299" y2="226.5" stroke="#2cc8a4" stroke-width="1.3" opacity="0.9"/><path d="M239.5 216.5 L244 215.5 L246 219 L244.5 222.5 L240 222 Z" fill="#c4c4c4" opacity="0.9"/><circle cx="157.2" cy="19" r="4.6" fill="#ffffff" fill-opacity="0.25" stroke="#3a44e4" stroke-width="1.8"/><path d="M154.2 19H160.2M157.2 16V22" stroke="#e8e8ff" stroke-width="1.1"/><circle cx="158" cy="230.2" r="4.6" fill="#ffffff" fill-opacity="0" stroke="#3a44e4" stroke-width="1.8"/><path d="M155 230.2H161M158 227.2V233.2" stroke="#6a70d0" stroke-width="1.1"/><text x="164.4" y="6.3" font-size="9" fill="#e8161c" font-weight="bold" clip-path="url(#ca)" textLength="12.2" lengthAdjust="spacingAndGlyphs">3/1</text><path d="M175.5 212 l1 3 l-2 0z" fill="#e02020"/><rect x="5" y="94" width="48" height="61" fill="#ffffff"/><rect x="12.9" y="94.2" width="13" height="11.5" rx="1.5" fill="#d8d8f2"/><text x="29.6" y="103.7" font-size="9.2" font-weight="bold" fill="#111">C K</text><rect x="12.9" y="109.7" width="13" height="11.5" rx="1.5" fill="#00f2f2"/><text x="29.6" y="119.2" font-size="9.2" font-weight="bold" fill="#111">Fe K</text><rect x="12.9" y="125.2" width="13" height="11.5" rx="1.5" fill="#00ee00"/><text x="29.6" y="134.7" font-size="9.2" font-weight="bold" fill="#111">Co K</text><rect x="12.9" y="140.7" width="13" height="11.5" rx="1.5" fill="#6e0000"/><text x="29.6" y="150.2" font-size="9.2" font-weight="bold" fill="#111">W L</text><text x="13.6" y="30" font-family="Liberation Serif" font-size="20" font-weight="bold" fill="#111">(a)</text><rect x="6.4" y="226.6" width="87.2" height="10" fill="#000"/><rect x="6.4" y="236.6" width="87.2" height="6" fill="#fff"/><text x="50" y="234.5" font-size="8.4" fill="#fff" text-anchor="middle">20 um</text>
<line x1="340" y1="3.5" x2="672" y2="3.5" stroke="#4a4a4a" stroke-width="1"/><line x1="342" y1="6" x2="672" y2="6" stroke="#cfcfcf" stroke-width="1.5"/><path d="M340.8 250 V8.5 Q340.8 6 343 6" fill="none" stroke="#c4c4c4" stroke-width="1.4"/><rect x="364" y="6.8" width="308" height="1.6" fill="#d4d4d4"/><line x1="364" y1="8.5" x2="672" y2="8.5" stroke="#9a9a9a" stroke-width="0.8"/><line x1="364.5" y1="8" x2="364.5" y2="233.5" stroke="#505050" stroke-width="1.2"/><path d="M364.6 232.0 L364.6 232.0 L365.1 232.0 L365.6 232.0 L366.1 232.0 L366.6 232.0 L367.1 231.9 L367.6 231.9 L368.1 231.9 L368.6 231.8 L369.1 231.8 L369.6 231.7 L370.1 231.5 L370.6 231.4 L371.1 231.2 L371.6 231.0 L372.1 230.7 L372.6 230.3 L373.1 229.9 L373.6 229.4 L374.1 228.8 L374.6 228.2 L375.1 227.5 L375.6 226.7 L376.1 225.8 L376.6 218.1 L377.1 213.2 L377.6 208.6 L378.1 204.2 L378.6 197.3 L379.1 196.2 L379.6 189.1 L380.1 187.5 L380.6 190.4 L381.1 186.4 L381.6 185.9 L382.1 187.2 L382.6 187.5 L383.1 181.5 L383.6 158.8 L384.1 157.0 L384.6 175.4 L385.1 194.2 L385.6 208.7 L386.1 212.6 L386.6 217.8 L387.1 221.7 L387.6 221.0 L388.1 221.3 L388.6 221.7 L389.1 222.1 L389.6 222.5 L390.1 222.8 L390.6 223.1 L391.1 223.4 L391.6 223.7 L392.1 220.3 L392.6 223.0 L393.1 221.9 L393.6 223.7 L394.1 224.1 L394.6 224.6 L395.1 225.0 L395.6 225.0 L396.1 221.2 L396.6 224.1 L397.1 224.5 L397.6 222.1 L398.1 223.9 L398.6 221.5 L399.1 225.0 L399.6 225.4 L400.1 222.1 L400.6 225.5 L401.1 223.0 L401.6 224.1 L402.1 221.2 L402.6 220.2 L403.1 218.8 L403.6 215.9 L404.1 212.8 L404.6 213.2 L405.1 215.4 L405.6 221.0 L406.1 219.6 L406.6 217.0 L407.1 212.8 L407.6 211.5 L408.1 212.6 L408.6 215.5 L409.1 219.9 L409.6 219.2 L410.1 221.7 L410.6 220.2 L411.1 218.2 L411.6 215.4 L412.1 210.2 L412.6 206.3 L413.1 194.5 L413.6 176.2 L414.1 155.5 L414.6 121.6 L415.1 89.3 L415.6 57.0 L416.1 35.4 L416.6 28.2 L417.1 37.0 L417.6 59.4 L418.1 91.1 L418.6 125.6 L419.1 157.3 L419.6 182.7 L420.1 199.8 L420.6 210.3 L421.1 216.9 L421.6 220.1 L422.1 224.7 L422.6 222.7 L423.1 225.7 L423.6 225.9 L424.1 225.6 L424.6 224.6 L425.1 226.0 L425.6 225.8 L426.1 225.4 L426.6 223.2 L427.1 225.4 L427.6 225.3 L428.1 225.5 L428.6 226.0 L429.1 222.9 L429.6 222.6 L430.1 223.9 L430.6 225.4 L431.1 225.3 L431.6 225.7 L432.1 224.4 L432.6 224.4 L433.1 225.7 L433.6 223.0 L434.1 224.0 L434.6 226.0 L435.1 223.5 L435.6 224.3 L436.1 225.9 L436.6 225.8 L437.1 223.9 L437.6 226.2 L438.1 225.4 L438.6 222.4 L439.1 226.0 L439.6 225.2 L440.1 222.8 L440.6 223.1 L441.1 223.7 L441.6 225.1 L442.1 222.7 L442.6 226.0 L443.1 223.1 L443.6 225.6 L444.1 224.5 L444.6 224.8 L445.1 226.0 L445.6 224.4 L446.1 224.8 L446.6 222.3 L447.1 224.5 L447.6 225.6 L448.1 225.8 L448.6 223.1 L449.1 225.9 L449.6 224.6 L450.1 224.4 L450.6 222.6 L451.1 226.3 L451.6 224.6 L452.1 226.3 L452.6 224.7 L453.1 224.7 L453.6 224.2 L454.1 223.4 L454.6 226.3 L455.1 223.4 L455.6 226.0 L456.1 225.8 L456.6 226.5 L457.1 225.3 L457.6 226.5 L458.1 226.1 L458.6 224.7 L459.1 224.2 L459.6 226.4 L460.1 224.0 L460.6 225.7 L461.1 226.4 L461.6 224.3 L462.1 224.3 L462.6 225.7 L463.1 225.4 L463.6 225.0 L464.1 225.0 L464.6 224.2 L465.1 224.2 L465.6 226.5 L466.1 226.6 L466.6 226.6 L467.1 226.3 L467.6 225.3 L468.1 222.9 L468.6 226.0 L469.1 226.1 L469.6 225.4 L470.1 223.0 L470.6 225.3 L471.1 226.4 L471.6 224.4 L472.1 222.7 L472.6 224.1 L473.1 226.1 L473.6 226.6 L474.1 225.9 L474.6 226.7 L475.1 226.7 L475.6 226.0 L476.1 223.8 L476.6 224.8 L477.1 226.1 L477.6 223.1 L478.1 226.7 L478.6 226.6 L479.1 226.5 L479.6 225.5 L480.1 223.6 L480.6 226.3 L481.1 224.0 L481.6 223.2 L482.1 225.9 L482.6 223.6 L483.1 223.6 L483.6 226.0 L484.1 226.8 L484.6 226.9 L485.1 226.7 L485.6 226.1 L486.1 227.0 L486.6 226.5 L487.1 226.0 L487.6 226.5 L488.1 224.8 L488.6 225.7 L489.1 225.8 L489.6 225.3 L490.1 225.6 L490.6 226.3 L491.1 226.9 L491.6 225.6 L492.1 227.0 L492.6 227.1 L493.1 226.6 L493.6 226.9 L494.1 224.7 L494.6 227.0 L495.1 226.3 L495.6 225.1 L496.1 226.4 L496.6 224.4 L497.1 227.1 L497.6 227.0 L498.1 226.8 L498.6 226.6 L499.1 225.9 L499.6 227.0 L500.1 225.9 L500.6 225.1 L501.1 225.4 L501.6 224.4 L502.1 227.2 L502.6 225.3 L503.1 225.0 L503.6 224.4 L504.1 227.1 L504.6 227.2 L505.1 224.9 L505.6 225.5 L506.1 227.2 L506.6 224.1 L507.1 225.1 L507.6 225.7 L508.1 224.9 L508.6 225.8 L509.1 226.8 L509.6 227.3 L510.1 226.8 L510.6 225.7 L511.1 227.2 L511.6 227.2 L512.1 227.3 L512.6 226.3 L513.1 223.5 L513.6 225.2 L514.1 227.4 L514.6 226.8 L515.1 225.5 L515.6 227.4 L516.1 224.8 L516.6 227.2 L517.1 226.6 L517.6 224.8 L518.1 224.3 L518.6 227.4 L519.1 224.7 L519.6 224.3 L520.1 224.6 L520.6 225.0 L521.1 226.9 L521.6 227.1 L522.1 227.5 L522.6 226.9 L523.1 227.2 L523.6 227.4 L524.1 223.8 L524.6 224.3 L525.1 224.8 L525.6 227.2 L526.1 227.5 L526.6 226.8 L527.1 227.6 L527.6 227.1 L528.1 226.1 L528.6 227.2 L529.1 227.2 L529.6 227.2 L530.1 224.8 L530.6 227.6 L531.1 224.9 L531.6 226.1 L532.1 226.4 L532.6 225.7 L533.1 227.7 L533.6 224.6 L534.1 227.3 L534.6 227.0 L535.1 226.6 L535.6 224.3 L536.1 227.5 L536.6 226.6 L537.1 223.7 L537.6 227.6 L538.1 226.0 L538.6 227.7 L539.1 226.4 L539.6 227.0 L540.1 226.5 L540.6 227.8 L541.1 227.6 L541.6 224.4 L542.1 227.7 L542.6 227.4 L543.1 223.8 L543.6 227.5 L544.1 226.4 L544.6 226.8 L545.1 227.3 L545.6 224.8 L546.1 224.0 L546.6 218.7 L547.1 213.6 L547.6 210.0 L548.1 197.6 L548.6 184.0 L549.1 166.9 L549.6 144.5 L550.1 130.2 L550.6 115.5 L551.1 109.1 L551.6 108.8 L552.1 118.7 L552.6 130.6 L553.1 151.1 L553.6 170.5 L554.1 185.1 L554.6 201.5 L555.1 209.6 L555.6 218.6 L556.1 220.2 L556.6 225.3 L557.1 225.2 L557.6 225.7 L558.1 226.8 L558.6 224.9 L559.1 226.8 L559.6 227.8 L560.1 226.9 L560.6 226.1 L561.1 227.4 L561.6 226.9 L562.1 228.0 L562.6 227.7 L563.1 225.4 L563.6 227.0 L564.1 226.8 L564.6 223.4 L565.1 224.7 L565.6 223.0 L566.1 220.7 L566.6 218.1 L567.1 215.6 L567.6 213.0 L568.1 211.4 L568.6 207.4 L569.1 211.0 L569.6 211.2 L570.1 214.4 L570.6 215.1 L571.1 219.8 L571.6 221.7 L572.1 224.1 L572.6 225.3 L573.1 226.5 L573.6 226.6 L574.1 224.2 L574.6 228.1 L575.1 228.0 L575.6 226.8 L576.1 225.4 L576.6 227.7 L577.1 227.8 L577.6 227.9 L578.1 227.8 L578.6 227.2 L579.1 225.9 L579.6 228.4 L580.1 228.3 L580.6 228.2 L581.1 226.8 L581.6 226.0 L582.1 228.4 L582.6 228.4 L583.1 228.3 L583.6 227.5 L584.1 226.1 L584.6 223.9 L585.1 226.9 L585.6 226.3 L586.1 223.4 L586.6 223.8 L587.1 222.7 L587.6 225.9 L588.1 224.4 L588.6 224.2 L589.1 227.0 L589.6 227.5 L590.1 224.5 L590.6 228.1 L591.1 228.0 L591.6 228.5 L592.1 225.4 L592.6 227.0 L593.1 228.4 L593.6 227.8 L594.1 227.8 L594.6 228.6 L595.1 226.3 L595.6 228.6 L596.1 228.0 L596.6 226.4 L597.1 228.3 L597.6 226.2 L598.1 225.3 L598.6 226.6 L599.1 227.9 L599.6 225.1 L600.1 228.3 L600.6 224.6 L601.1 227.2 L601.6 227.5 L602.1 225.5 L602.6 228.6 L603.1 228.1 L603.6 225.7 L604.1 227.6 L604.6 223.1 L605.1 224.2 L605.6 221.9 L606.1 215.7 L606.6 216.2 L607.1 212.4 L607.6 207.4 L608.1 204.2 L608.6 201.3 L609.1 204.5 L609.6 203.2 L610.1 207.7 L610.6 211.8 L611.1 217.1 L611.6 218.0 L612.1 223.3 L612.6 223.7 L613.1 222.9 L613.6 227.9 L614.1 227.7 L614.6 225.0 L615.1 228.5 L615.6 226.0 L616.1 226.2 L616.6 227.0 L617.1 224.8 L617.6 226.9 L618.1 228.9 L618.6 226.1 L619.1 226.7 L619.6 228.4 L620.1 229.0 L620.6 228.7 L621.1 227.9 L621.6 228.8 L622.1 225.0 L622.6 229.0 L623.1 228.8 L623.6 229.0 L624.1 226.8 L624.6 226.2 L625.1 228.8 L625.6 228.5 L626.1 225.8 L626.6 227.6 L627.1 228.9 L627.6 225.0 L628.1 226.7 L628.6 228.8 L629.1 228.3 L629.6 228.1 L630.1 227.5 L630.6 228.3 L631.1 229.1 L631.6 228.7 L632.1 229.1 L632.6 228.2 L633.1 227.7 L633.6 227.7 L634.1 229.2 L634.6 228.0 L635.1 226.7 L635.6 227.9 L636.1 228.8 L636.6 226.7 L637.1 228.6 L637.6 226.7 L638.1 229.3 L638.6 229.2 L639.1 228.3 L639.6 229.1 L640.1 228.8 L640.6 225.1 L641.1 225.9 L641.6 227.5 L642.1 227.2 L642.6 224.4 L643.1 223.8 L643.6 225.1 L644.1 223.5 L644.6 222.8 L645.1 224.6 L645.6 224.9 L646.1 225.5 L646.6 223.2 L647.1 226.2 L647.6 226.5 L648.1 227.2 L648.6 225.5 L649.1 227.0 L649.6 226.1 L650.1 227.0 L650.6 227.2 L651.1 227.8 L651.6 227.4 L652.1 224.2 L652.6 223.7 L653.1 223.6 L653.6 223.7 L654.1 223.8 L654.6 224.8 L655.1 225.0 L655.6 224.7 L656.1 223.4 L656.6 226.2 L657.1 226.9 L657.6 226.4 L658.1 226.0 L658.6 228.0 L659.1 229.4 L659.6 228.0 L660.1 229.1 L660.6 229.5 L661.1 229.6 L661.6 228.5 L662.1 225.9 L662.6 228.4 L663.1 226.8 L663.6 229.6 L664.1 229.2 L664.6 225.9 L665.1 227.7 L665.6 227.5 L666.1 229.4 L666.6 227.9 L667.1 229.3 L667.6 229.6 L668.1 229.7 L668.6 229.6 L669.1 229.7 L669.6 229.1 L670.1 226.7 L670.6 228.6 L671.1 229.2 L671.6 228.1 L672 232.0 Z" fill="#f6b4b4"/><path d="M364.6 232.0 L364.6 232.0 L365.1 232.0 L365.6 232.0 L366.1 232.0 L366.6 232.0 L367.1 231.9 L367.6 231.9 L368.1 231.9 L368.6 231.8 L369.1 231.8 L369.6 231.7 L370.1 231.5 L370.6 231.4 L371.1 231.2 L371.6 231.0 L372.1 230.7 L372.6 230.3 L373.1 229.9 L373.6 229.4 L374.1 228.8 L374.6 228.2 L375.1 227.5 L375.6 226.7 L376.1 225.8 L376.6 218.1 L377.1 213.2 L377.6 208.6 L378.1 204.2 L378.6 197.3 L379.1 196.2 L379.6 189.1 L380.1 187.5 L380.6 190.4 L381.1 186.4 L381.6 185.9 L382.1 187.2 L382.6 187.5 L383.1 181.5 L383.6 158.8 L384.1 157.0 L384.6 175.4 L385.1 194.2 L385.6 208.7 L386.1 212.6 L386.6 217.8 L387.1 221.7 L387.6 221.0 L388.1 221.3 L388.6 221.7 L389.1 222.1 L389.6 222.5 L390.1 222.8 L390.6 223.1 L391.1 223.4 L391.6 223.7 L392.1 224.0 L392.6 224.2 L393.1 224.4 L393.6 224.6 L394.1 224.8 L394.6 224.9 L395.1 225.0 L395.6 225.1 L396.1 225.2 L396.6 225.3 L397.1 225.4 L397.6 225.4 L398.1 225.5 L398.6 225.5 L399.1 225.5 L399.6 225.6 L400.1 225.6 L400.6 225.6 L401.1 225.6 L401.6 225.6 L402.1 225.2 L402.6 223.9 L403.1 220.6 L403.6 215.9 L404.1 212.8 L404.6 214.1 L405.1 218.2 L405.6 221.0 L406.1 220.4 L406.6 217.0 L407.1 213.2 L407.6 211.5 L408.1 213.0 L408.6 216.7 L409.1 220.1 L409.6 221.8 L410.1 221.7 L410.6 220.4 L411.1 218.5 L411.6 216.1 L412.1 212.6 L412.6 206.8 L413.1 196.5 L413.6 179.8 L414.1 155.6 L414.6 124.7 L415.1 90.7 L415.6 59.3 L416.1 37.0 L416.6 28.9 L417.1 37.0 L417.6 59.5 L418.1 91.2 L418.6 125.7 L419.1 157.4 L419.6 182.9 L420.1 201.1 L420.6 212.8 L421.1 219.5 L421.6 223.1 L422.1 224.8 L422.6 225.5 L423.1 225.8 L423.6 225.9 L424.1 226.0 L424.6 226.0 L425.1 226.0 L425.6 226.0 L426.1 226.0 L426.6 226.0 L427.1 226.1 L427.6 226.1 L428.1 226.1 L428.6 226.1 L429.1 226.1 L429.6 226.1 L430.1 226.1 L430.6 226.1 L431.1 226.1 L431.6 226.1 L432.1 226.1 L432.6 226.1 L433.1 226.1 L433.6 226.2 L434.1 226.2 L434.6 226.2 L435.1 226.2 L435.6 226.2 L436.1 226.2 L436.6 226.2 L437.1 226.2 L437.6 226.2 L438.1 226.2 L438.6 226.2 L439.1 226.2 L439.6 226.2 L440.1 226.3 L440.6 226.3 L441.1 226.3 L441.6 226.3 L442.1 226.3 L442.6 226.3 L443.1 226.3 L443.6 226.3 L444.1 226.3 L444.6 226.3 L445.1 226.3 L445.6 226.3 L446.1 226.3 L446.6 226.4 L447.1 226.4 L447.6 226.4 L448.1 226.4 L448.6 226.4 L449.1 226.4 L449.6 226.4 L450.1 226.4 L450.6 226.4 L451.1 226.4 L451.6 226.4 L452.1 226.4 L452.6 226.4 L453.1 226.5 L453.6 226.5 L454.1 226.5 L454.6 226.5 L455.1 226.5 L455.6 226.5 L456.1 226.5 L456.6 226.5 L457.1 226.5 L457.6 226.5 L458.1 226.5 L458.6 226.5 L459.1 226.5 L459.6 226.6 L460.1 226.6 L460.6 226.6 L461.1 226.6 L461.6 226.6 L462.1 226.6 L462.6 226.6 L463.1 226.6 L463.6 226.6 L464.1 226.6 L464.6 226.6 L465.1 226.6 L465.6 226.6 L466.1 226.7 L466.6 226.7 L467.1 226.7 L467.6 226.7 L468.1 226.7 L468.6 226.7 L469.1 226.7 L469.6 226.7 L470.1 226.7 L470.6 226.7 L471.1 226.7 L471.6 226.7 L472.1 226.7 L472.6 226.8 L473.1 226.8 L473.6 226.8 L474.1 226.8 L474.6 226.8 L475.1 226.8 L475.6 226.8 L476.1 226.8 L476.6 226.8 L477.1 226.8 L477.6 226.8 L478.1 226.8 L478.6 226.8 L479.1 226.9 L479.6 226.9 L480.1 226.9 L480.6 226.9 L481.1 226.9 L481.6 226.9 L482.1 226.9 L482.6 226.9 L483.1 226.9 L483.6 226.9 L484.1 226.9 L484.6 226.9 L485.1 226.9 L485.6 227.0 L486.1 227.0 L486.6 227.0 L487.1 227.0 L487.6 227.0 L488.1 227.0 L488.6 227.0 L489.1 227.0 L489.6 227.0 L490.1 227.0 L490.6 227.0 L491.1 227.0 L491.6 227.0 L492.1 227.1 L492.6 227.1 L493.1 227.1 L493.6 227.1 L494.1 227.1 L494.6 227.1 L495.1 227.1 L495.6 227.1 L496.1 227.1 L496.6 227.1 L497.1 227.1 L497.6 227.1 L498.1 227.1 L498.6 227.2 L499.1 227.2 L499.6 227.2 L500.1 227.2 L500.6 227.2 L501.1 227.2 L501.6 227.2 L502.1 227.2 L502.6 227.2 L503.1 227.2 L503.6 227.2 L504.1 227.2 L504.6 227.2 L505.1 227.3 L505.6 227.3 L506.1 227.3 L506.6 227.3 L507.1 227.3 L507.6 227.3 L508.1 227.3 L508.6 227.3 L509.1 227.3 L509.6 227.3 L510.1 227.3 L510.6 227.3 L511.1 227.3 L511.6 227.3 L512.1 227.4 L512.6 227.4 L513.1 227.4 L513.6 227.4 L514.1 227.4 L514.6 227.4 L515.1 227.4 L515.6 227.4 L516.1 227.4 L516.6 227.4 L517.1 227.4 L517.6 227.4 L518.1 227.4 L518.6 227.5 L519.1 227.5 L519.6 227.5 L520.1 227.5 L520.6 227.5 L521.1 227.5 L521.6 227.5 L522.1 227.5 L522.6 227.5 L523.1 227.5 L523.6 227.5 L524.1 227.5 L524.6 227.5 L525.1 227.6 L525.6 227.6 L526.1 227.6 L526.6 227.6 L527.1 227.6 L527.6 227.6 L528.1 227.6 L528.6 227.6 L529.1 227.6 L529.6 227.6 L530.1 227.6 L530.6 227.6 L531.1 227.6 L531.6 227.7 L532.1 227.7 L532.6 227.7 L533.1 227.7 L533.6 227.7 L534.1 227.7 L534.6 227.7 L535.1 227.7 L535.6 227.7 L536.1 227.7 L536.6 227.7 L537.1 227.7 L537.6 227.7 L538.1 227.8 L538.6 227.8 L539.1 227.8 L539.6 227.8 L540.1 227.8 L540.6 227.8 L541.1 227.8 L541.6 227.8 L542.1 227.8 L542.6 227.8 L543.1 227.8 L543.6 227.8 L544.1 227.8 L544.6 227.6 L545.1 227.3 L545.6 226.5 L546.1 225.1 L546.6 222.3 L547.1 217.5 L547.6 210.0 L548.1 199.0 L548.6 184.5 L549.1 166.9 L549.6 148.0 L550.1 130.3 L550.6 116.5 L551.1 109.4 L551.6 110.2 L552.1 118.8 L552.6 133.6 L553.1 151.9 L553.6 170.7 L554.1 187.7 L554.6 201.6 L555.1 211.9 L555.6 218.8 L556.1 223.1 L556.6 225.6 L557.1 226.9 L557.6 227.6 L558.1 227.9 L558.6 228.0 L559.1 228.1 L559.6 228.1 L560.1 228.1 L560.6 228.1 L561.1 228.1 L561.6 228.1 L562.1 228.1 L562.6 228.0 L563.1 227.8 L563.6 227.5 L564.1 226.9 L564.6 226.1 L565.1 224.8 L565.6 223.0 L566.1 220.8 L566.6 218.2 L567.1 215.7 L567.6 213.4 L568.1 211.7 L568.6 211.0 L569.1 211.3 L569.6 212.6 L570.1 214.7 L570.6 217.3 L571.1 219.9 L571.6 222.2 L572.1 224.2 L572.6 225.7 L573.1 226.8 L573.6 227.4 L574.1 227.9 L574.6 228.1 L575.1 228.2 L575.6 228.3 L576.1 228.3 L576.6 228.3 L577.1 228.4 L577.6 228.4 L578.1 228.4 L578.6 228.4 L579.1 228.4 L579.6 228.4 L580.1 228.4 L580.6 228.4 L581.1 228.4 L581.6 228.4 L582.1 228.4 L582.6 228.4 L583.1 228.4 L583.6 228.3 L584.1 228.1 L584.6 227.8 L585.1 227.5 L585.6 227.0 L586.1 226.6 L586.6 226.2 L587.1 226.1 L587.6 226.2 L588.1 226.5 L588.6 226.9 L589.1 227.3 L589.6 227.8 L590.1 228.1 L590.6 228.3 L591.1 228.4 L591.6 228.5 L592.1 228.6 L592.6 228.6 L593.1 228.6 L593.6 228.6 L594.1 228.6 L594.6 228.6 L595.1 228.6 L595.6 228.6 L596.1 228.6 L596.6 228.7 L597.1 228.7 L597.6 228.7 L598.1 228.7 L598.6 228.7 L599.1 228.7 L599.6 228.7 L600.1 228.7 L600.6 228.7 L601.1 228.7 L601.6 228.7 L602.1 228.7 L602.6 228.6 L603.1 228.5 L603.6 228.2 L604.1 227.6 L604.6 226.6 L605.1 225.1 L605.6 222.9 L606.1 219.9 L606.6 216.3 L607.1 212.4 L607.6 208.7 L608.1 205.9 L608.6 204.4 L609.1 204.6 L609.6 206.4 L610.1 209.4 L610.6 213.2 L611.1 217.1 L611.6 220.6 L612.1 223.5 L612.6 225.6 L613.1 227.0 L613.6 227.9 L614.1 228.4 L614.6 228.7 L615.1 228.8 L615.6 228.9 L616.1 228.9 L616.6 229.0 L617.1 229.0 L617.6 229.0 L618.1 229.0 L618.6 229.0 L619.1 229.0 L619.6 229.0 L620.1 229.0 L620.6 229.0 L621.1 229.0 L621.6 229.0 L622.1 229.0 L622.6 229.1 L623.1 229.1 L623.6 229.1 L624.1 229.1 L624.6 229.1 L625.1 229.1 L625.6 229.1 L626.1 229.1 L626.6 229.1 L627.1 229.1 L627.6 229.1 L628.1 229.1 L628.6 229.1 L629.1 229.2 L629.6 229.2 L630.1 229.2 L630.6 229.2 L631.1 229.2 L631.6 229.2 L632.1 229.2 L632.6 229.2 L633.1 229.2 L633.6 229.2 L634.1 229.2 L634.6 229.2 L635.1 229.2 L635.6 229.3 L636.1 229.3 L636.6 229.3 L637.1 229.3 L637.6 229.3 L638.1 229.3 L638.6 229.3 L639.1 229.2 L639.6 229.1 L640.1 229.0 L640.6 228.7 L641.1 228.4 L641.6 227.9 L642.1 227.3 L642.6 226.6 L643.1 225.9 L643.6 225.2 L644.1 224.8 L644.6 224.6 L645.1 224.6 L645.6 225.0 L646.1 225.5 L646.6 226.1 L647.1 226.6 L647.6 227.0 L648.1 227.2 L648.6 227.3 L649.1 227.3 L649.6 227.4 L650.1 227.5 L650.6 227.7 L651.1 227.8 L651.6 227.8 L652.1 227.7 L652.6 227.4 L653.1 227.1 L653.6 226.7 L654.1 226.5 L654.6 226.4 L655.1 226.5 L655.6 226.8 L656.1 227.2 L656.6 227.7 L657.1 228.2 L657.6 228.6 L658.1 228.9 L658.6 229.2 L659.1 229.4 L659.6 229.5 L660.1 229.6 L660.6 229.6 L661.1 229.6 L661.6 229.6 L662.1 229.7 L662.6 229.7 L663.1 229.7 L663.6 229.7 L664.1 229.7 L664.6 229.7 L665.1 229.7 L665.6 229.7 L666.1 229.7 L666.6 229.7 L667.1 229.7 L667.6 229.7 L668.1 229.8 L668.6 229.8 L669.1 229.8 L669.6 229.8 L670.1 229.8 L670.6 229.8 L671.1 229.8 L671.6 229.8 L672 232.0 Z" fill="#fc0606"/><path d="M382.5 192 L382.5 144.4 M384.9 170 L384.9 138.4 M404.4 212 L404.4 190.8 M416.6 48 L416.6 28.5 M413.3 214 L413.3 200" stroke="#95eef4" stroke-width="1.1"/><polyline points="392.1,219.7 392.6,222.4 393.1,221.3 393.6,223.1 394.1,223.5 394.6,224.0 395.1,224.4 395.6,224.4 396.1,220.6 396.6,223.5 397.1,223.9 397.6,221.5 398.1,223.3 398.6,220.9 399.1,224.4 399.6,224.8 400.1,221.5 400.6,224.9 401.1,222.4 401.6,223.5 402.1,220.6 402.6,219.6 403.1,218.2 403.6,215.3 404.1,212.2 404.6,212.6 405.1,214.8 405.6,220.4 406.1,219.0 406.6,216.4 407.1,212.2 407.6,210.9 408.1,212.0 408.6,214.9 409.1,219.3 409.6,218.6 410.1,221.1 410.6,219.6 411.1,217.6 411.6,214.8 412.1,209.6 412.6,205.7 413.1,193.9 413.6,175.6 414.1,154.9 414.6,121.0 415.1,88.7 415.6,56.4 416.1,34.8 416.6,27.6 417.1,36.4 417.6,58.8 418.1,90.5 418.6,125.0 419.1,156.7 419.6,182.1 420.1,199.2 420.6,209.7 421.1,216.3 421.6,219.5 422.1,224.1 422.6,222.1 423.1,225.1 423.6,225.3 424.1,225.0 424.6,224.0 425.1,225.4 425.6,225.2 426.1,224.8 426.6,222.6 427.1,224.8 427.6,224.7 428.1,224.9 428.6,225.4 429.1,222.3 429.6,222.0 430.1,223.3 430.6,224.8 431.1,224.7 431.6,225.1 432.1,223.8 432.6,223.8 433.1,225.1 433.6,222.4 434.1,223.4 434.6,225.4 435.1,222.9 435.6,223.7 436.1,225.3 436.6,225.2 437.1,223.3 437.6,225.6 438.1,224.8 438.6,221.8 439.1,225.4 439.6,224.6 440.1,222.2 440.6,222.5 441.1,223.1 441.6,224.5 442.1,222.1 442.6,225.4 443.1,222.5 443.6,225.0 444.1,223.9 444.6,224.2 445.1,225.4 445.6,223.8 446.1,224.2 446.6,221.7 447.1,223.9 447.6,225.0 448.1,225.2 448.6,222.5 449.1,225.3 449.6,224.0 450.1,223.8 450.6,222.0 451.1,225.7 451.6,224.0 452.1,225.7 452.6,224.1 453.1,224.1 453.6,223.6 454.1,222.8 454.6,225.7 455.1,222.8 455.6,225.4 456.1,225.2 456.6,225.9 457.1,224.7 457.6,225.9 458.1,225.5 458.6,224.1 459.1,223.6 459.6,225.8 460.1,223.4 460.6,225.1 461.1,225.8 461.6,223.7 462.1,223.7 462.6,225.1 463.1,224.8 463.6,224.4 464.1,224.4 464.6,223.6 465.1,223.6 465.6,225.9 466.1,226.0 466.6,226.0 467.1,225.7 467.6,224.7 468.1,222.3 468.6,225.4 469.1,225.5 469.6,224.8 470.1,222.4 470.6,224.7 471.1,225.8 471.6,223.8 472.1,222.1 472.6,223.5 473.1,225.5 473.6,226.0 474.1,225.3 474.6,226.1 475.1,226.1 475.6,225.4 476.1,223.2 476.6,224.2 477.1,225.5 477.6,222.5 478.1,226.1 478.6,226.0 479.1,225.9 479.6,224.9 480.1,223.0 480.6,225.7 481.1,223.4 481.6,222.6 482.1,225.3 482.6,223.0 483.1,223.0 483.6,225.4 484.1,226.2 484.6,226.3 485.1,226.1 485.6,225.5 486.1,226.4 486.6,225.9 487.1,225.4 487.6,225.9 488.1,224.2 488.6,225.1 489.1,225.2 489.6,224.7 490.1,225.0 490.6,225.7 491.1,226.3 491.6,225.0 492.1,226.4 492.6,226.5 493.1,226.0 493.6,226.3 494.1,224.1 494.6,226.4 495.1,225.7 495.6,224.5 496.1,225.8 496.6,223.8 497.1,226.5 497.6,226.4 498.1,226.2 498.6,226.0 499.1,225.3 499.6,226.4 500.1,225.3 500.6,224.5 501.1,224.8 501.6,223.8 502.1,226.6 502.6,224.7 503.1,224.4 503.6,223.8 504.1,226.5 504.6,226.6 505.1,224.3 505.6,224.9 506.1,226.6 506.6,223.5 507.1,224.5 507.6,225.1 508.1,224.3 508.6,225.2 509.1,226.2 509.6,226.7 510.1,226.2 510.6,225.1 511.1,226.6 511.6,226.6 512.1,226.7 512.6,225.7 513.1,222.9 513.6,224.6 514.1,226.8 514.6,226.2 515.1,224.9 515.6,226.8 516.1,224.2 516.6,226.6 517.1,226.0 517.6,224.2 518.1,223.7 518.6,226.8 519.1,224.1 519.6,223.7 520.1,224.0 520.6,224.4 521.1,226.3 521.6,226.5 522.1,226.9 522.6,226.3 523.1,226.6 523.6,226.8 524.1,223.2 524.6,223.7 525.1,224.2 525.6,226.6 526.1,226.9 526.6,226.2 527.1,227.0 527.6,226.5 528.1,225.5 528.6,226.6 529.1,226.6 529.6,226.6 530.1,224.2 530.6,227.0 531.1,224.3 531.6,225.5 532.1,225.8 532.6,225.1 533.1,227.1 533.6,224.0 534.1,226.7 534.6,226.4 535.1,226.0 535.6,223.7 536.1,226.9 536.6,226.0 537.1,223.1 537.6,227.0 538.1,225.4 538.6,227.1 539.1,225.8 539.6,226.4 540.1,225.9 540.6,227.2 541.1,227.0 541.6,223.8 542.1,227.1 542.6,226.8 543.1,223.2 543.6,226.9 544.1,225.8 544.6,226.2 545.1,226.7 545.6,224.2 546.1,223.4 546.6,218.1 547.1,213.0 547.6,209.4 548.1,197.0 548.6,183.4 549.1,166.3 549.6,143.9 550.1,129.6 550.6,114.9 551.1,108.5 551.6,108.2 552.1,118.1 552.6,130.0 553.1,150.5 553.6,169.9 554.1,184.5 554.6,200.9 555.1,209.0 555.6,218.0 556.1,219.6 556.6,224.7 557.1,224.6 557.6,225.1 558.1,226.2 558.6,224.3 559.1,226.2 559.6,227.2 560.1,226.3 560.6,225.5 561.1,226.8 561.6,226.3 562.1,227.4 562.6,227.1 563.1,224.8 563.6,226.4 564.1,226.2 564.6,222.8 565.1,224.1 565.6,222.4 566.1,220.1 566.6,217.5 567.1,215.0 567.6,212.4 568.1,210.8 568.6,206.8 569.1,210.4 569.6,210.6 570.1,213.8 570.6,214.5 571.1,219.2 571.6,221.1 572.1,223.5 572.6,224.7 573.1,225.9 573.6,226.0 574.1,223.6 574.6,227.5 575.1,227.4 575.6,226.2 576.1,224.8 576.6,227.1 577.1,227.2 577.6,227.3 578.1,227.2 578.6,226.6 579.1,225.3 579.6,227.8 580.1,227.7 580.6,227.6 581.1,226.2 581.6,225.4 582.1,227.8 582.6,227.8 583.1,227.7 583.6,226.9 584.1,225.5 584.6,223.3 585.1,226.3 585.6,225.7 586.1,222.8 586.6,223.2 587.1,222.1 587.6,225.3 588.1,223.8 588.6,223.6 589.1,226.4 589.6,226.9 590.1,223.9 590.6,227.5 591.1,227.4 591.6,227.9 592.1,224.8 592.6,226.4 593.1,227.8 593.6,227.2 594.1,227.2 594.6,228.0 595.1,225.7 595.6,228.0 596.1,227.4 596.6,225.8 597.1,227.7 597.6,225.6 598.1,224.7 598.6,226.0 599.1,227.3 599.6,224.5 600.1,227.7 600.6,224.0 601.1,226.6 601.6,226.9 602.1,224.9 602.6,228.0 603.1,227.5 603.6,225.1 604.1,227.0 604.6,222.5 605.1,223.6 605.6,221.3 606.1,215.1 606.6,215.6 607.1,211.8 607.6,206.8 608.1,203.6 608.6,200.7 609.1,203.9 609.6,202.6 610.1,207.1 610.6,211.2 611.1,216.5 611.6,217.4 612.1,222.7 612.6,223.1 613.1,222.3 613.6,227.3 614.1,227.1 614.6,224.4 615.1,227.9 615.6,225.4 616.1,225.6 616.6,226.4 617.1,224.2 617.6,226.3 618.1,228.3 618.6,225.5 619.1,226.1 619.6,227.8 620.1,228.4 620.6,228.1 621.1,227.3 621.6,228.2 622.1,224.4 622.6,228.4 623.1,228.2 623.6,228.4 624.1,226.2 624.6,225.6 625.1,228.2 625.6,227.9 626.1,225.2 626.6,227.0 627.1,228.3 627.6,224.4 628.1,226.1 628.6,228.2 629.1,227.7 629.6,227.5 630.1,226.9 630.6,227.7 631.1,228.5 631.6,228.1 632.1,228.5 632.6,227.6 633.1,227.1 633.6,227.1 634.1,228.6 634.6,227.4 635.1,226.1 635.6,227.3 636.1,228.2 636.6,226.1 637.1,228.0 637.6,226.1 638.1,228.7 638.6,228.6 639.1,227.7 639.6,228.5 640.1,228.2 640.6,224.5 641.1,225.3 641.6,226.9 642.1,226.6 642.6,223.8 643.1,223.2 643.6,224.5 644.1,222.9 644.6,222.2 645.1,224.0 645.6,224.3 646.1,224.9 646.6,222.6 647.1,225.6 647.6,225.9 648.1,226.6 648.6,224.9 649.1,226.4 649.6,225.5 650.1,226.4 650.6,226.6 651.1,227.2 651.6,226.8 652.1,223.6 652.6,223.1 653.1,223.0 653.6,223.1 654.1,223.2 654.6,224.2 655.1,224.4 655.6,224.1 656.1,222.8 656.6,225.6 657.1,226.3 657.6,225.8 658.1,225.4 658.6,227.4 659.1,228.8 659.6,227.4 660.1,228.5 660.6,228.9 661.1,229.0 661.6,227.9 662.1,225.3 662.6,227.8 663.1,226.2 663.6,229.0 664.1,228.6 664.6,225.3 665.1,227.1 665.6,226.9 666.1,228.8 666.6,227.3 667.1,228.7 667.6,229.0 668.1,229.1 668.6,229.0 669.1,229.1 669.6,228.5 670.1,226.1 670.6,228.0 671.1,228.6 671.6,227.5" fill="none" stroke="#a6eaf0" stroke-width="0.5" opacity="0.45"/><polyline points="364.8,231.5 366,229 367.5,231 369,228.5 370.5,230.5 372,229.5" fill="none" stroke="#8fe8ef" stroke-width="1"/><polyline points="371.8,230.9 372.5,230.4 373.2,229.8 373.9,229.1 374.6,228.2 375.3,227.2 376,226.0 376.7,224.8 377.4,223.4 378.1,222.1 378.8,220.9 379.5,219.8 380.2,218.9 380.9,218.3 381.6,218.0 382.3,218.0 383,218.2 383.7,218.4 384.4,218.7 385.1,219.1 385.8,219.6 386.5,220.1 387.2,220.6 387.9,221.2 388.6,221.7 389.3,222.3 390,222.7 390.7,223.2 391.4,223.6 392.1,224.0 392.8,224.3 393.5,224.6 394.2,224.8 394.9,225.0 395.6,225.1 396.3,225.3 397,225.3 397.7,225.4 398.4,225.5 399.1,225.5 399.8,225.6 400.5,225.6 401.2,225.6 401.9,225.6 402.6,225.7 403.3,225.7 404,225.7 404.7,225.7 405.4,225.7 406.1,225.7 406.8,225.7 407.5,225.8 408.2,225.8 408.9,225.8 409.6,225.8 410.3,225.8 411,225.8 411.7,225.8 412.4,225.8 413.1,225.8 413.8,225.8 414.5,225.9 415.2,225.9 415.9,225.9 416.6,225.9 417.3,225.9 418,225.9 418.7,225.9 419.4,225.9 420.1,225.9 420.8,226.0 421.5,226.0 422.2,226.0 422.9,226.0 423.6,226.0 424.3,226.0 425,226.0 425.7,226.0 426.4,226.0 427.1,226.1 427.8,226.1 428.5,226.1 429.2,226.1 429.9,226.1 430.6,226.1 431.3,226.1 432,226.1 432.7,226.1 433.4,226.1 434.1,226.2 434.8,226.2 435.5,226.2 436.2,226.2 436.9,226.2 437.6,226.2 438.3,226.2 439,226.2 439.7,226.2 440.4,226.3 441.1,226.3 441.8,226.3 442.5,226.3 443.2,226.3 443.9,226.3 444.6,226.3 445.3,226.3 446,226.3 446.7,226.4 447.4,226.4 448.1,226.4 448.8,226.4 449.5,226.4 450.2,226.4 450.9,226.4 451.6,226.4 452.3,226.4 453,226.4 453.7,226.5 454.4,226.5 455.1,226.5 455.8,226.5 456.5,226.5 457.2,226.5 457.9,226.5 458.6,226.5 459.3,226.5 460,226.6 460.7,226.6 461.4,226.6 462.1,226.6 462.8,226.6 463.5,226.6 464.2,226.6 464.9,226.6 465.6,226.6 466.3,226.7 467,226.7 467.7,226.7 468.4,226.7 469.1,226.7 469.8,226.7 470.5,226.7 471.2,226.7 471.9,226.7 472.6,226.8 473.3,226.8 474,226.8 474.7,226.8 475.4,226.8 476.1,226.8 476.8,226.8 477.5,226.8 478.2,226.8 478.9,226.8 479.6,226.9 480.3,226.9 481,226.9 481.7,226.9 482.4,226.9 483.1,226.9 483.8,226.9 484.5,226.9 485.2,226.9 485.9,227.0 486.6,227.0 487.3,227.0 488,227.0 488.7,227.0 489.4,227.0 490.1,227.0 490.8,227.0 491.5,227.0 492.2,227.1 492.9,227.1 493.6,227.1 494.3,227.1 495,227.1 495.7,227.1 496.4,227.1 497.1,227.1 497.8,227.1 498.5,227.1 499.2,227.2 499.9,227.2 500.6,227.2 501.3,227.2 502,227.2 502.7,227.2 503.4,227.2 504.1,227.2 504.8,227.2 505.5,227.3 506.2,227.3 506.9,227.3 507.6,227.3 508.3,227.3 509,227.3 509.7,227.3 510.4,227.3 511.1,227.3 511.8,227.4 512.5,227.4 513.2,227.4 513.9,227.4 514.6,227.4 515.3,227.4 516,227.4 516.7,227.4 517.4,227.4 518.1,227.4 518.8,227.5 519.5,227.5 520.2,227.5 520.9,227.5 521.6,227.5 522.3,227.5 523,227.5 523.7,227.5 524.4,227.5 525.1,227.6 525.8,227.6 526.5,227.6 527.2,227.6 527.9,227.6 528.6,227.6 529.3,227.6 530,227.6 530.7,227.6 531.4,227.7 532.1,227.7 532.8,227.7 533.5,227.7 534.2,227.7 534.9,227.7 535.6,227.7 536.3,227.7 537,227.7 537.7,227.8 538.4,227.8 539.1,227.8 539.8,227.8 540.5,227.8 541.2,227.8 541.9,227.8 542.6,227.8 543.3,227.8 544,227.8 544.7,227.9 545.4,227.9 546.1,227.9 546.8,227.9 547.5,227.9 548.2,227.9 548.9,227.9 549.6,227.9 550.3,227.9 551,228.0 551.7,228.0 552.4,228.0 553.1,228.0 553.8,228.0 554.5,228.0 555.2,228.0 555.9,228.0 556.6,228.0 557.3,228.1 558,228.1 558.7,228.1 559.4,228.1 560.1,228.1 560.8,228.1 561.5,228.1 562.2,228.1 562.9,228.1 563.6,228.1 564.3,228.2 565,228.2 565.7,228.2 566.4,228.2 567.1,228.2 567.8,228.2 568.5,228.2 569.2,228.2 569.9,228.2 570.6,228.3 571.3,228.3 572,228.3 572.7,228.3 573.4,228.3 574.1,228.3 574.8,228.3 575.5,228.3 576.2,228.3 576.9,228.4 577.6,228.4 578.3,228.4 579,228.4 579.7,228.4 580.4,228.4 581.1,228.4 581.8,228.4 582.5,228.4 583.2,228.4 583.9,228.5 584.6,228.5 585.3,228.5 586,228.5 586.7,228.5 587.4,228.5 588.1,228.5 588.8,228.5 589.5,228.5 590.2,228.6 590.9,228.6 591.6,228.6 592.3,228.6 593,228.6 593.7,228.6 594.4,228.6 595.1,228.6 595.8,228.6 596.5,228.7 597.2,228.7 597.9,228.7 598.6,228.7 599.3,228.7 600,228.7 600.7,228.7 601.4,228.7 602.1,228.7 602.8,228.8 603.5,228.8 604.2,228.8 604.9,228.8 605.6,228.8 606.3,228.8 607,228.8 607.7,228.8 608.4,228.8 609.1,228.8 609.8,228.9 610.5,228.9 611.2,228.9 611.9,228.9 612.6,228.9 613.3,228.9 614,228.9 614.7,228.9 615.4,228.9 616.1,229.0 616.8,229.0 617.5,229.0 618.2,229.0 618.9,229.0 619.6,229.0 620.3,229.0 621,229.0 621.7,229.0 622.4,229.1 623.1,229.1 623.8,229.1 624.5,229.1 625.2,229.1 625.9,229.1 626.6,229.1 627.3,229.1 628,229.1 628.7,229.1 629.4,229.2 630.1,229.2 630.8,229.2 631.5,229.2 632.2,229.2 632.9,229.2 633.6,229.2 634.3,229.2 635,229.2 635.7,229.3 636.4,229.3 637.1,229.3 637.8,229.3 638.5,229.3 639.2,229.3 639.9,229.3 640.6,229.3 641.3,229.3 642,229.4 642.7,229.4 643.4,229.4 644.1,229.4 644.8,229.4 645.5,229.4 646.2,229.4 646.9,229.4 647.6,229.4 648.3,229.4 649,229.5 649.7,229.5 650.4,229.5 651.1,229.5 651.8,229.5 652.5,229.5 653.2,229.5 653.9,229.5 654.6,229.5 655.3,229.6 656,229.6 656.7,229.6 657.4,229.6 658.1,229.6 658.8,229.6 659.5,229.6 660.2,229.6 660.9,229.6 661.6,229.7 662.3,229.7 663,229.7 663.7,229.7 664.4,229.7 665.1,229.7 665.8,229.7 666.5,229.7 667.2,229.7 667.9,229.8 668.6,229.8 669.3,229.8 670,229.8 670.7,229.8" fill="none" stroke="#ffe8e0" stroke-width="0.9" opacity="0.85"/><line x1="364" y1="233.3" x2="672.5" y2="233.3" stroke="#626874" stroke-width="1.4"/><line x1="364.3" y1="233.5" x2="364.3" y2="235.5" stroke="#626874" stroke-width="0.8"/><line x1="393.6" y1="233.5" x2="393.6" y2="235.5" stroke="#626874" stroke-width="0.8"/><line x1="422.8" y1="233.5" x2="422.8" y2="235.5" stroke="#626874" stroke-width="0.8"/><line x1="452.1" y1="233.5" x2="452.1" y2="235.5" stroke="#626874" stroke-width="0.8"/><line x1="481.3" y1="233.5" x2="481.3" y2="235.5" stroke="#626874" stroke-width="0.8"/><line x1="510.6" y1="233.5" x2="510.6" y2="235.5" stroke="#626874" stroke-width="0.8"/><line x1="539.8" y1="233.5" x2="539.8" y2="235.5" stroke="#626874" stroke-width="0.8"/><line x1="569" y1="233.5" x2="569" y2="235.5" stroke="#626874" stroke-width="0.8"/><line x1="598.3" y1="233.5" x2="598.3" y2="235.5" stroke="#626874" stroke-width="0.8"/><line x1="627.5" y1="233.5" x2="627.5" y2="235.5" stroke="#626874" stroke-width="0.8"/><line x1="656.8" y1="233.5" x2="656.8" y2="235.5" stroke="#626874" stroke-width="0.8"/><text x="364.3" y="245.2" font-size="10.2" fill="#333" text-anchor="middle" textLength="12" lengthAdjust="spacingAndGlyphs">0.0</text><text x="422.8" y="245.2" font-size="10.2" fill="#333" text-anchor="middle" textLength="12" lengthAdjust="spacingAndGlyphs">2.0</text><text x="481.3" y="245.2" font-size="10.2" fill="#333" text-anchor="middle" textLength="12" lengthAdjust="spacingAndGlyphs">4.0</text><text x="539.8" y="245.2" font-size="10.2" fill="#333" text-anchor="middle" textLength="12" lengthAdjust="spacingAndGlyphs">6.0</text><text x="598.3" y="245.2" font-size="10.2" fill="#333" text-anchor="middle" textLength="12" lengthAdjust="spacingAndGlyphs">8.0</text><text x="656.8" y="245.2" font-size="10.2" fill="#333" text-anchor="middle" textLength="17" lengthAdjust="spacingAndGlyphs">10.0</text><text x="363.6" y="33.7" font-size="9.4" fill="#333" text-anchor="end" textLength="21.4" lengthAdjust="spacingAndGlyphs">1.17K</text><line x1="364.5" y1="30.3" x2="366.5" y2="30.3" stroke="#505050" stroke-width="0.8"/><text x="363.6" y="56.2" font-size="9.4" fill="#333" text-anchor="end" textLength="21.4" lengthAdjust="spacingAndGlyphs">1.04K</text><line x1="364.5" y1="52.8" x2="366.5" y2="52.8" stroke="#505050" stroke-width="0.8"/><text x="363.6" y="78.7" font-size="9.4" fill="#333" text-anchor="end" textLength="21.4" lengthAdjust="spacingAndGlyphs">0.91K</text><line x1="364.5" y1="75.3" x2="366.5" y2="75.3" stroke="#505050" stroke-width="0.8"/><text x="363.6" y="101.2" font-size="9.4" fill="#333" text-anchor="end" textLength="21.4" lengthAdjust="spacingAndGlyphs">0.78K</text><line x1="364.5" y1="97.8" x2="366.5" y2="97.8" stroke="#505050" stroke-width="0.8"/><text x="363.6" y="123.7" font-size="9.4" fill="#333" text-anchor="end" textLength="21.4" lengthAdjust="spacingAndGlyphs">0.65K</text><line x1="364.5" y1="120.3" x2="366.5" y2="120.3" stroke="#505050" stroke-width="0.8"/><text x="363.6" y="146.1" font-size="9.4" fill="#333" text-anchor="end" textLength="21.4" lengthAdjust="spacingAndGlyphs">0.52K</text><line x1="364.5" y1="142.7" x2="366.5" y2="142.7" stroke="#505050" stroke-width="0.8"/><text x="363.6" y="168.6" font-size="9.4" fill="#333" text-anchor="end" textLength="21.4" lengthAdjust="spacingAndGlyphs">0.39K</text><line x1="364.5" y1="165.2" x2="366.5" y2="165.2" stroke="#505050" stroke-width="0.8"/><text x="363.6" y="191.1" font-size="9.4" fill="#333" text-anchor="end" textLength="21.4" lengthAdjust="spacingAndGlyphs">0.26K</text><line x1="364.5" y1="187.7" x2="366.5" y2="187.7" stroke="#505050" stroke-width="0.8"/><text x="363.6" y="213.6" font-size="9.4" fill="#333" text-anchor="end" textLength="21.4" lengthAdjust="spacingAndGlyphs">0.13K</text><line x1="364.5" y1="210.2" x2="366.5" y2="210.2" stroke="#505050" stroke-width="0.8"/><text x="363.6" y="236.1" font-size="9.4" fill="#333" text-anchor="end" textLength="21.4" lengthAdjust="spacingAndGlyphs">0.00K</text><line x1="364.5" y1="232.7" x2="366.5" y2="232.7" stroke="#505050" stroke-width="0.8"/><text x="414.6" y="25.4" font-size="9.9" fill="#1e1e1e" font-weight="bold" textLength="8.6" lengthAdjust="spacingAndGlyphs">W</text><text x="383" y="159.2" font-size="9.9" fill="#1e1e1e" font-weight="bold" textLength="8.5" lengthAdjust="spacingAndGlyphs">Fe</text><text x="384" y="203.4" font-size="9.9" fill="#1e1e1e" font-weight="bold" textLength="10.7" lengthAdjust="spacingAndGlyphs">Co</text><text x="372.2" y="223.8" font-size="9.9" fill="#1e1e1e" font-weight="bold" textLength="6" lengthAdjust="spacingAndGlyphs">C</text><text x="548.8" y="107.6" font-size="9.9" fill="#1e1e1e" font-weight="bold" textLength="9.2" lengthAdjust="spacingAndGlyphs">Fe</text><text x="563.2" y="184" font-size="9.9" fill="#1e1e1e" font-weight="bold" textLength="10.3" lengthAdjust="spacingAndGlyphs">Co</text><text x="567.8" y="207.6" font-size="9.9" fill="#1e1e1e" font-weight="bold" textLength="9" lengthAdjust="spacingAndGlyphs">Fe</text><text x="584.5" y="221.5" font-size="9.9" fill="#1e1e1e" font-weight="bold" textLength="10.7" lengthAdjust="spacingAndGlyphs">Co</text><text x="607" y="200" font-size="9.9" fill="#1e1e1e" font-weight="bold" textLength="9" lengthAdjust="spacingAndGlyphs">W</text><text x="644.9" y="200.3" font-size="7.8" fill="#1e1e1e" font-weight="bold" textLength="8.1" lengthAdjust="spacingAndGlyphs">W</text><text x="653" y="203.9" font-size="10" fill="#1e1e1e" font-weight="bold" textLength="9" lengthAdjust="spacingAndGlyphs">W</text><text x="640" y="222" font-size="9.9" fill="#1e1e1e" font-weight="bold" textLength="17.5" lengthAdjust="spacingAndGlyphs">WW</text><text x="369.3" y="30.6" font-family="Liberation Serif" font-size="19.8" font-weight="bold" fill="#111" textLength="24.6" lengthAdjust="spacingAndGlyphs">(b)</text><defs><clipPath id="ci"><rect x="430.5" y="9" width="103.5" height="82.5"/></clipPath><filter id="nz2" x="0" y="0" width="100%" height="100%"><feTurbulence type="fractalNoise" baseFrequency="0.9" numOctaves="2" seed="9"/><feColorMatrix type="matrix" values="0 0 0 0 0.5  0 0 0 0 0.5  0 0 0 0 0.5  1.2 1.2 0 0 -1.05"/></filter></defs><g clip-path="url(#ci)"><rect x="430.5" y="9" width="103.5" height="82.5" fill="#a2a2a2"/><defs><linearGradient id="ig" x1="0" y1="0" x2="0" y2="1"><stop offset="0" stop-color="#a2a2a2"/><stop offset="1" stop-color="#858585"/></linearGradient><linearGradient id="ig2" x1="0" y1="0" x2="0" y2="1"><stop offset="0" stop-color="#5e5e5e"/><stop offset="0.3" stop-color="#5a5a5a"/><stop offset="1" stop-color="#545454"/></linearGradient></defs><rect x="430.5" y="36" width="103.5" height="15" fill="url(#ig)"/><polygon points="430.5,50.5 433.5,50.9 436.5,51.2 439.5,51.6 442.5,51.4 445.5,51.7 448.5,50.4 451.5,50.8 454.5,51.3 457.5,50.6 460.5,50.7 463.5,49.4 466.5,49.7 469.5,49.2 472.5,49.6 475.5,49.6 478.5,49 481.5,49.4 484.5,49.8 487.5,50.9 490.5,51 493.5,50.3 496.5,51.4 499.5,50.6 502.5,51.3 505.5,50.5 508.5,50.2 511.5,51.1 514.5,50 517.5,49.7 520.5,50.5 523.5,50.2 526.5,49.2 529.5,50.1 532.5,49.6 535.5,49.9 534,92 430.5,92" fill="url(#ig2)"/><rect x="430.5" y="41" width="103.5" height="11" filter="url(#blot2)" opacity="0.28"/><rect x="430.5" y="9" width="103.5" height="82.5" filter="url(#nz)" opacity="0.16"/><rect x="484" y="47" width="8" height="3" fill="none" stroke="#d0d0d0" stroke-width="0.6"/><circle cx="506" cy="82" r="1" fill="#cfcfcf"/><rect x="432" y="87" width="27" height="2.2" fill="#111"/><rect x="432" y="89.2" width="27" height="1.6" fill="#f0f0f0"/></g><rect x="430.5" y="9" width="103.5" height="82.5" fill="none" stroke="#e0a0a8" stroke-width="1"/><rect x="535" y="7" width="150" height="17" fill="#ffffff"/><rect x="535" y="24" width="150" height="17" fill="#d9e1f2"/><text x="554" y="35.9" font-size="9.4" fill="#222" text-anchor="middle" textLength="14.6" lengthAdjust="spacingAndGlyphs">C K</text><text x="607.6" y="35.9" font-size="9.4" fill="#222" text-anchor="middle" textLength="15.2" lengthAdjust="spacingAndGlyphs">5.12</text><text x="661" y="35.9" font-size="9.4" fill="#222" text-anchor="middle" textLength="19.8" lengthAdjust="spacingAndGlyphs">26.87</text><rect x="535" y="41" width="150" height="16.6" fill="#8ea9db"/><text x="554" y="52.7" font-size="9.4" fill="#222" text-anchor="middle" textLength="14.6" lengthAdjust="spacingAndGlyphs">FeK</text><text x="607.6" y="52.7" font-size="9.4" fill="#222" text-anchor="middle" textLength="20.5" lengthAdjust="spacingAndGlyphs">48.35</text><text x="661" y="52.7" font-size="9.4" fill="#222" text-anchor="middle" textLength="19.8" lengthAdjust="spacingAndGlyphs">54.59</text><rect x="535" y="57.6" width="150" height="16.8" fill="#d9e1f2"/><text x="554" y="69.4" font-size="9.4" fill="#222" text-anchor="middle" textLength="14.6" lengthAdjust="spacingAndGlyphs">CoK</text><text x="607.6" y="69.4" font-size="9.4" fill="#222" text-anchor="middle" textLength="15.2" lengthAdjust="spacingAndGlyphs">3.56</text><text x="661" y="69.4" font-size="9.4" fill="#222" text-anchor="middle" textLength="10.3" lengthAdjust="spacingAndGlyphs">3.8</text><rect x="535" y="74.4" width="150" height="17" fill="#8ea9db"/><text x="554" y="86.3" font-size="9.4" fill="#222" text-anchor="middle" textLength="14.6" lengthAdjust="spacingAndGlyphs">W L</text><text x="607.6" y="86.3" font-size="9.4" fill="#222" text-anchor="middle" textLength="20.5" lengthAdjust="spacingAndGlyphs">42.97</text><text x="661" y="86.3" font-size="9.4" fill="#222" text-anchor="middle" textLength="19.8" lengthAdjust="spacingAndGlyphs">14.74</text><text x="539" y="19.2" font-size="9.4" font-weight="bold" fill="#1a1a1a" textLength="32" lengthAdjust="spacingAndGlyphs">Element</text><text x="589" y="19.2" font-size="9.4" font-weight="bold" fill="#1a1a1a" textLength="38" lengthAdjust="spacingAndGlyphs">Weight %</text><text x="642.2" y="19.2" font-size="9.4" font-weight="bold" fill="#1a1a1a" textLength="37.3" lengthAdjust="spacingAndGlyphs">Atomic %</text><line x1="535" y1="3.5" x2="672" y2="3.5" stroke="#4a4a4a" stroke-width="1"/><line x1="535" y1="6" x2="672" y2="6" stroke="#cfcfcf" stroke-width="1.5"/>
</svg>
</body></html>
